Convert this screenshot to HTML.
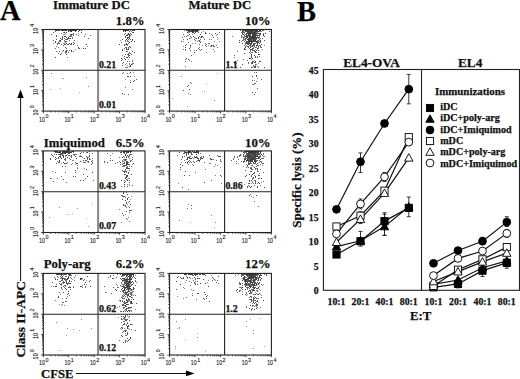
<!DOCTYPE html>
<html><head><meta charset="utf-8"><style>html,body{margin:0;padding:0;background:#fff;}svg{display:block;}</style></head>
<body><svg width="520" height="379" viewBox="0 0 520 379"><rect width="520" height="379" fill="#fff"/>
<path d="M63,30h1v1h-1zM71,30h1v1h-1zM61,30h1v1h-1zM68,31h1v1h-1zM75,31h1v1h-1zM75,30h1v1h-1zM64,30h1v1h-1zM68,38h1v1h-1zM66,39h1v1h-1zM65,41h1v1h-1zM67,39h1v1h-1zM64,36h1v1h-1zM60,40h1v1h-1zM66,48h1v1h-1zM65,51h1v1h-1zM81,32h1v1h-1zM78,47h1v1h-1zM66,54h1v1h-1zM130,30h1v1h-1zM127,30h1v1h-1zM132,30h1v1h-1zM127,38h1v1h-1zM129,57h1v1h-1zM124,56h1v1h-1zM128,49h1v1h-1zM122,50h1v1h-1zM128,37h1v1h-1zM127,37h1v1h-1zM126,47h1v1h-1zM130,47h1v1h-1zM129,66h1v1h-1zM130,35h1v1h-1zM129,42h1v1h-1zM129,31h1v1h-1zM128,47h1v1h-1zM128,33h1v1h-1zM128,34h1v1h-1zM133,32h1v1h-1zM129,36h1v1h-1zM125,36h1v1h-1z" fill="#4a4a4a"/>
<path d="M68,30h1v1h-1zM56,30h1v1h-1zM55,30h1v1h-1zM65,30h1v1h-1zM58,30h1v1h-1zM70,31h1v1h-1zM69,30h1v1h-1zM79,30h1v1h-1zM76,30h1v1h-1zM62,30h1v1h-1zM59,30h1v1h-1zM70,30h1v1h-1zM72,30h1v1h-1zM66,30h1v1h-1zM74,30h1v1h-1zM73,30h1v1h-1zM71,31h1v1h-1zM65,36h1v1h-1zM123,30h1v1h-1zM125,30h1v1h-1zM123,31h1v1h-1zM126,30h1v1h-1zM124,30h1v1h-1zM125,31h1v1h-1zM133,30h1v1h-1zM128,30h1v1h-1zM126,35h1v1h-1zM127,35h1v1h-1zM126,39h1v1h-1z" fill="#3a3a3a"/>
<path d="M55,42h1v1h-1zM70,38h1v1h-1zM60,38h1v1h-1zM66,37h1v1h-1zM76,34h1v1h-1zM71,34h1v1h-1zM81,30h1v1h-1zM69,43h1v1h-1zM59,43h1v1h-1zM64,32h1v1h-1zM71,43h1v1h-1zM63,50h1v1h-1zM71,50h1v1h-1zM59,41h1v1h-1zM66,43h1v1h-1zM55,41h1v1h-1zM68,44h1v1h-1zM83,48h1v1h-1zM86,44h1v1h-1zM78,31h1v1h-1zM85,48h1v1h-1zM66,50h1v1h-1zM60,54h1v1h-1zM55,57h1v1h-1zM126,44h1v1h-1zM132,63h1v1h-1zM121,60h1v1h-1zM126,57h1v1h-1zM119,44h1v1h-1zM129,55h1v1h-1zM126,49h1v1h-1zM129,38h1v1h-1zM131,64h1v1h-1zM130,65h1v1h-1zM127,57h1v1h-1zM132,39h1v1h-1zM126,51h1v1h-1zM121,58h1v1h-1zM124,45h1v1h-1zM129,46h1v1h-1zM134,41h1v1h-1zM129,34h1v1h-1zM131,41h1v1h-1zM130,33h1v1h-1zM122,93h1v1h-1zM130,82h1v1h-1zM130,72h1v1h-1z" fill="#444"/>
<path d="M53,32h1v1h-1zM62,37h1v1h-1zM68,37h1v1h-1zM73,42h1v1h-1zM62,36h1v1h-1zM62,38h1v1h-1zM66,41h1v1h-1zM69,36h1v1h-1zM65,33h1v1h-1zM67,38h1v1h-1zM51,34h1v1h-1zM53,40h1v1h-1zM66,32h1v1h-1zM73,44h1v1h-1zM74,43h1v1h-1zM65,47h1v1h-1zM64,44h1v1h-1zM69,50h1v1h-1zM74,40h1v1h-1zM66,51h1v1h-1zM56,39h1v1h-1zM59,51h1v1h-1zM58,42h1v1h-1zM71,51h1v1h-1zM79,48h1v1h-1zM88,38h1v1h-1zM84,36h1v1h-1zM68,52h1v1h-1zM61,53h1v1h-1zM125,54h1v1h-1zM121,42h1v1h-1zM122,49h1v1h-1zM132,51h1v1h-1zM126,48h1v1h-1zM134,30h1v1h-1zM134,52h1v1h-1zM129,37h1v1h-1zM122,65h1v1h-1zM126,43h1v1h-1zM125,37h1v1h-1zM128,39h1v1h-1zM123,62h1v1h-1zM130,66h1v1h-1zM122,39h1v1h-1zM125,59h1v1h-1zM128,54h1v1h-1zM124,34h1v1h-1zM130,39h1v1h-1zM136,79h1v1h-1zM127,76h1v1h-1zM130,76h1v1h-1zM128,94h1v1h-1zM134,80h1v1h-1zM128,76h1v1h-1z" fill="#555"/>
<path d="M61,33h1v1h-1zM71,36h1v1h-1zM59,40h1v1h-1zM56,35h1v1h-1zM64,34h1v1h-1zM63,34h1v1h-1zM72,34h1v1h-1zM62,39h1v1h-1zM64,43h1v1h-1zM70,34h1v1h-1zM57,30h1v1h-1zM73,35h1v1h-1zM60,41h1v1h-1zM73,34h1v1h-1zM64,40h1v1h-1zM65,42h1v1h-1zM67,44h1v1h-1zM58,47h1v1h-1zM70,36h1v1h-1zM56,51h1v1h-1zM78,35h1v1h-1zM66,52h1v1h-1zM122,55h1v1h-1zM122,59h1v1h-1zM127,51h1v1h-1zM128,56h1v1h-1zM125,47h1v1h-1zM129,63h1v1h-1zM127,41h1v1h-1zM127,34h1v1h-1zM125,40h1v1h-1zM132,40h1v1h-1zM122,63h1v1h-1zM132,60h1v1h-1zM127,40h1v1h-1zM126,67h1v1h-1zM125,44h1v1h-1zM127,67h1v1h-1zM127,45h1v1h-1zM125,33h1v1h-1zM131,31h1v1h-1zM132,32h1v1h-1zM127,73h1v1h-1zM125,87h1v1h-1zM130,80h1v1h-1zM122,73h1v1h-1zM123,72h1v1h-1z" fill="#777"/>
<path d="M73,33h1v1h-1zM61,39h1v1h-1zM69,38h1v1h-1zM63,45h1v1h-1zM69,40h1v1h-1zM56,36h1v1h-1zM70,35h1v1h-1zM65,44h1v1h-1zM64,38h1v1h-1zM55,48h1v1h-1zM70,44h1v1h-1zM61,44h1v1h-1zM57,44h1v1h-1zM71,44h1v1h-1zM72,38h1v1h-1zM56,46h1v1h-1zM73,51h1v1h-1zM77,45h1v1h-1zM90,35h1v1h-1zM85,34h1v1h-1zM65,52h1v1h-1zM58,53h1v1h-1zM128,41h1v1h-1zM124,58h1v1h-1zM127,54h1v1h-1zM127,61h1v1h-1zM128,43h1v1h-1zM124,48h1v1h-1zM128,48h1v1h-1zM129,61h1v1h-1zM132,61h1v1h-1zM125,41h1v1h-1zM129,52h1v1h-1zM127,49h1v1h-1zM125,64h1v1h-1zM127,44h1v1h-1zM128,55h1v1h-1zM131,54h1v1h-1zM131,34h1v1h-1zM129,35h1v1h-1zM133,81h1v1h-1z" fill="#666"/>
<path d="M71,35h1v1h-1zM72,37h1v1h-1zM63,32h1v1h-1zM65,39h1v1h-1zM55,31h1v1h-1zM53,43h1v1h-1zM64,41h1v1h-1zM67,50h1v1h-1zM58,43h1v1h-1zM57,43h1v1h-1zM63,43h1v1h-1zM75,49h1v1h-1zM78,48h1v1h-1zM87,46h1v1h-1zM78,33h1v1h-1zM62,51h1v1h-1zM67,57h1v1h-1zM65,53h1v1h-1zM129,53h1v1h-1zM130,53h1v1h-1zM128,53h1v1h-1zM126,63h1v1h-1zM120,40h1v1h-1zM125,67h1v1h-1zM129,64h1v1h-1zM124,44h1v1h-1zM133,63h1v1h-1zM132,64h1v1h-1zM127,65h1v1h-1zM128,59h1v1h-1zM129,73h1v1h-1zM132,89h1v1h-1zM133,72h1v1h-1zM125,79h1v1h-1zM134,76h1v1h-1zM124,94h1v1h-1zM51,73h1v1h-1zM86,77h1v1h-1zM88,86h1v1h-1z" fill="#888"/>
<path d="M79,92h1v1h-1zM63,78h1v1h-1zM60,88h1v1h-1zM62,78h1v1h-1zM50,89h1v1h-1z" fill="#aaa"/>
<path d="M192,30h1v1h-1zM187,30h1v1h-1zM196,30h1v1h-1zM188,30h1v1h-1zM193,30h1v1h-1zM194,30h1v1h-1zM195,30h1v1h-1zM198,30h1v1h-1zM197,31h1v1h-1zM192,31h1v1h-1zM197,30h1v1h-1zM196,31h1v1h-1zM193,31h1v1h-1zM189,30h1v1h-1zM188,31h1v1h-1zM195,31h1v1h-1zM191,30h1v1h-1zM191,31h1v1h-1zM192,32h1v1h-1zM194,33h1v1h-1zM251,41h1v1h-1zM250,41h1v1h-1zM255,30h1v1h-1zM250,30h1v1h-1zM245,30h1v1h-1zM247,36h1v1h-1zM249,41h1v1h-1zM251,40h1v1h-1zM253,35h1v1h-1zM252,30h1v1h-1zM248,35h1v1h-1zM251,37h1v1h-1zM254,37h1v1h-1zM248,32h1v1h-1zM251,30h1v1h-1zM245,31h1v1h-1zM252,33h1v1h-1zM248,38h1v1h-1zM249,33h1v1h-1zM252,35h1v1h-1zM256,30h1v1h-1zM254,31h1v1h-1zM249,38h1v1h-1zM247,41h1v1h-1zM260,30h1v1h-1zM247,43h1v1h-1zM247,37h1v1h-1zM246,35h1v1h-1zM255,40h1v1h-1zM256,41h1v1h-1zM253,39h1v1h-1zM256,31h1v1h-1zM253,38h1v1h-1zM248,30h1v1h-1zM257,30h1v1h-1zM253,30h1v1h-1zM252,34h1v1h-1zM247,31h1v1h-1zM248,44h1v1h-1zM253,41h1v1h-1zM248,40h1v1h-1zM249,30h1v1h-1zM247,33h1v1h-1zM249,36h1v1h-1zM253,37h1v1h-1zM250,34h1v1h-1zM256,33h1v1h-1zM243,34h1v1h-1zM252,31h1v1h-1zM246,30h1v1h-1zM255,36h1v1h-1zM254,36h1v1h-1zM250,44h1v1h-1zM252,36h1v1h-1zM255,34h1v1h-1zM247,39h1v1h-1zM250,36h1v1h-1zM249,40h1v1h-1zM249,34h1v1h-1zM254,38h1v1h-1zM254,40h1v1h-1zM258,33h1v1h-1zM251,42h1v1h-1zM254,33h1v1h-1zM253,40h1v1h-1zM257,43h1v1h-1zM255,37h1v1h-1zM250,33h1v1h-1zM252,45h1v1h-1zM248,31h1v1h-1zM259,30h1v1h-1zM253,34h1v1h-1zM256,38h1v1h-1zM255,31h1v1h-1zM251,33h1v1h-1zM244,35h1v1h-1zM252,41h1v1h-1zM256,42h1v1h-1zM253,33h1v1h-1zM250,45h1v1h-1zM249,43h1v1h-1zM249,35h1v1h-1zM256,37h1v1h-1zM248,41h1v1h-1zM250,31h1v1h-1zM255,41h1v1h-1zM252,38h1v1h-1zM250,32h1v1h-1zM255,32h1v1h-1zM251,36h1v1h-1zM245,38h1v1h-1zM252,37h1v1h-1zM254,35h1v1h-1zM250,39h1v1h-1zM260,40h1v1h-1zM250,47h1v1h-1z" fill="#3a3a3a"/>
<path d="M189,31h1v1h-1zM186,30h1v1h-1zM193,32h1v1h-1zM190,50h1v1h-1zM194,52h1v1h-1zM190,36h1v1h-1zM258,42h1v1h-1zM254,34h1v1h-1zM255,35h1v1h-1zM243,31h1v1h-1zM251,38h1v1h-1zM254,32h1v1h-1zM253,44h1v1h-1zM255,33h1v1h-1zM254,43h1v1h-1zM258,35h1v1h-1zM251,49h1v1h-1zM253,36h1v1h-1zM254,44h1v1h-1zM252,46h1v1h-1zM248,34h1v1h-1zM252,42h1v1h-1zM249,32h1v1h-1zM242,33h1v1h-1zM244,32h1v1h-1zM251,43h1v1h-1zM246,42h1v1h-1zM245,40h1v1h-1zM247,35h1v1h-1zM247,46h1v1h-1zM257,45h1v1h-1zM249,31h1v1h-1zM250,37h1v1h-1zM248,42h1v1h-1zM251,31h1v1h-1zM252,52h1v1h-1zM256,45h1v1h-1zM246,36h1v1h-1zM254,41h1v1h-1zM257,44h1v1h-1zM254,46h1v1h-1zM252,32h1v1h-1zM247,32h1v1h-1zM254,30h1v1h-1zM249,39h1v1h-1zM243,30h1v1h-1zM251,39h1v1h-1zM246,38h1v1h-1zM255,39h1v1h-1zM247,30h1v1h-1zM248,33h1v1h-1zM250,43h1v1h-1zM243,37h1v1h-1zM256,35h1v1h-1zM259,37h1v1h-1zM251,32h1v1h-1zM257,31h1v1h-1zM257,42h1v1h-1zM255,43h1v1h-1zM253,32h1v1h-1zM245,46h1v1h-1zM258,46h1v1h-1zM246,33h1v1h-1zM245,47h1v1h-1zM253,45h1v1h-1zM260,41h1v1h-1zM257,48h1v1h-1zM252,62h1v1h-1zM255,66h1v1h-1zM251,57h1v1h-1zM251,54h1v1h-1zM250,50h1v1h-1zM250,58h1v1h-1zM249,52h1v1h-1zM256,50h1v1h-1zM252,63h1v1h-1zM252,49h1v1h-1zM255,57h1v1h-1zM259,54h1v1h-1zM251,55h1v1h-1zM254,67h1v1h-1zM258,54h1v1h-1zM256,75h1v1h-1zM187,86h1v1h-1z" fill="#4a4a4a"/>
<path d="M190,30h1v1h-1zM201,32h1v1h-1zM199,47h1v1h-1zM183,39h1v1h-1zM194,37h1v1h-1zM213,46h1v1h-1zM214,51h1v1h-1zM212,45h1v1h-1zM192,34h1v1h-1zM189,38h1v1h-1zM209,39h1v1h-1zM188,32h1v1h-1zM200,42h1v1h-1zM200,39h1v1h-1zM217,37h1v1h-1zM190,46h1v1h-1zM185,50h1v1h-1zM190,38h1v1h-1zM188,35h1v1h-1zM202,45h1v1h-1zM187,35h1v1h-1zM191,61h1v1h-1zM185,66h1v1h-1zM189,60h1v1h-1zM257,33h1v1h-1zM242,30h1v1h-1zM243,32h1v1h-1zM242,34h1v1h-1zM241,36h1v1h-1zM252,39h1v1h-1zM244,36h1v1h-1zM241,35h1v1h-1zM248,47h1v1h-1zM241,41h1v1h-1zM257,36h1v1h-1zM250,46h1v1h-1zM260,47h1v1h-1zM260,46h1v1h-1zM262,38h1v1h-1zM260,38h1v1h-1zM250,35h1v1h-1zM257,32h1v1h-1zM263,33h1v1h-1zM249,48h1v1h-1zM248,36h1v1h-1zM258,38h1v1h-1zM257,40h1v1h-1zM244,45h1v1h-1zM249,45h1v1h-1zM244,37h1v1h-1zM253,43h1v1h-1zM258,48h1v1h-1zM258,47h1v1h-1zM250,53h1v1h-1zM254,50h1v1h-1zM248,62h1v1h-1zM252,67h1v1h-1zM255,56h1v1h-1zM258,67h1v1h-1zM251,46h1v1h-1zM251,62h1v1h-1zM254,45h1v1h-1zM246,45h1v1h-1zM237,51h1v1h-1zM248,63h1v1h-1zM236,63h1v1h-1zM243,59h1v1h-1zM234,57h1v1h-1zM257,78h1v1h-1zM255,83h1v1h-1zM190,94h1v1h-1zM188,93h1v1h-1zM191,83h1v1h-1z" fill="#777"/>
<path d="M184,30h1v1h-1zM194,31h1v1h-1zM189,32h1v1h-1zM210,46h1v1h-1zM192,43h1v1h-1zM206,52h1v1h-1zM190,47h1v1h-1zM208,45h1v1h-1zM219,41h1v1h-1zM214,41h1v1h-1zM216,35h1v1h-1zM217,39h1v1h-1zM183,46h1v1h-1zM211,39h1v1h-1zM208,43h1v1h-1zM206,33h1v1h-1zM186,44h1v1h-1zM211,34h1v1h-1zM198,40h1v1h-1zM200,37h1v1h-1zM183,41h1v1h-1zM195,38h1v1h-1zM200,50h1v1h-1zM203,31h1v1h-1zM200,41h1v1h-1zM241,32h1v1h-1zM263,30h1v1h-1zM245,42h1v1h-1zM259,36h1v1h-1zM244,33h1v1h-1zM251,52h1v1h-1zM247,44h1v1h-1zM264,45h1v1h-1zM252,40h1v1h-1zM256,32h1v1h-1zM244,39h1v1h-1zM256,39h1v1h-1zM261,31h1v1h-1zM260,31h1v1h-1zM256,47h1v1h-1zM253,31h1v1h-1zM243,40h1v1h-1zM245,44h1v1h-1zM256,46h1v1h-1zM242,36h1v1h-1zM262,49h1v1h-1zM250,51h1v1h-1zM255,65h1v1h-1zM253,66h1v1h-1zM257,56h1v1h-1zM251,59h1v1h-1zM258,52h1v1h-1zM254,60h1v1h-1zM255,49h1v1h-1zM256,64h1v1h-1zM257,49h1v1h-1zM258,63h1v1h-1zM237,60h1v1h-1zM254,80h1v1h-1zM252,84h1v1h-1zM181,76h1v1h-1zM214,100h1v1h-1z" fill="#888"/>
<path d="M190,31h1v1h-1zM199,36h1v1h-1zM214,46h1v1h-1zM198,48h1v1h-1zM217,47h1v1h-1zM194,50h1v1h-1zM216,45h1v1h-1zM183,34h1v1h-1zM209,33h1v1h-1zM183,49h1v1h-1zM213,45h1v1h-1zM191,37h1v1h-1zM205,32h1v1h-1zM197,41h1v1h-1zM185,49h1v1h-1zM219,32h1v1h-1zM212,35h1v1h-1zM196,50h1v1h-1zM195,43h1v1h-1zM184,36h1v1h-1zM199,44h1v1h-1zM199,40h1v1h-1zM206,44h1v1h-1zM194,39h1v1h-1zM188,42h1v1h-1zM205,43h1v1h-1zM203,37h1v1h-1zM205,45h1v1h-1zM185,61h1v1h-1zM191,55h1v1h-1zM185,59h1v1h-1zM259,45h1v1h-1zM247,42h1v1h-1zM244,41h1v1h-1zM241,37h1v1h-1zM251,44h1v1h-1zM258,41h1v1h-1zM255,38h1v1h-1zM245,36h1v1h-1zM258,40h1v1h-1zM260,34h1v1h-1zM243,38h1v1h-1zM245,49h1v1h-1zM260,42h1v1h-1zM261,47h1v1h-1zM256,34h1v1h-1zM259,41h1v1h-1zM245,39h1v1h-1zM260,45h1v1h-1zM242,40h1v1h-1zM259,56h1v1h-1zM256,52h1v1h-1zM254,51h1v1h-1zM255,61h1v1h-1zM255,64h1v1h-1zM253,65h1v1h-1zM251,63h1v1h-1zM253,47h1v1h-1zM232,36h1v1h-1zM269,31h1v1h-1zM255,92h1v1h-1zM256,81h1v1h-1zM257,88h1v1h-1zM254,72h1v1h-1zM256,72h1v1h-1zM188,85h1v1h-1z" fill="#666"/>
<path d="M195,32h1v1h-1zM182,37h1v1h-1zM209,43h1v1h-1zM193,36h1v1h-1zM187,32h1v1h-1zM206,46h1v1h-1zM204,39h1v1h-1zM213,49h1v1h-1zM215,33h1v1h-1zM217,34h1v1h-1zM198,32h1v1h-1zM200,34h1v1h-1zM211,46h1v1h-1zM195,40h1v1h-1zM196,38h1v1h-1zM199,41h1v1h-1zM199,49h1v1h-1zM198,38h1v1h-1zM181,41h1v1h-1zM185,45h1v1h-1zM259,34h1v1h-1zM259,31h1v1h-1zM246,34h1v1h-1zM246,31h1v1h-1zM259,35h1v1h-1zM261,44h1v1h-1zM259,33h1v1h-1zM243,39h1v1h-1zM246,41h1v1h-1zM258,37h1v1h-1zM257,41h1v1h-1zM257,37h1v1h-1zM248,43h1v1h-1zM245,34h1v1h-1zM259,39h1v1h-1zM244,30h1v1h-1zM259,43h1v1h-1zM242,32h1v1h-1zM245,43h1v1h-1zM247,60h1v1h-1zM255,67h1v1h-1zM252,61h1v1h-1zM257,66h1v1h-1zM250,49h1v1h-1zM255,62h1v1h-1zM255,47h1v1h-1zM253,61h1v1h-1zM254,66h1v1h-1zM252,48h1v1h-1zM253,48h1v1h-1zM251,56h1v1h-1zM260,61h1v1h-1zM258,50h1v1h-1zM252,50h1v1h-1zM253,50h1v1h-1zM264,40h1v1h-1zM234,55h1v1h-1zM264,36h1v1h-1zM240,30h1v1h-1zM228,64h1v1h-1zM242,64h1v1h-1zM261,79h1v1h-1zM254,83h1v1h-1zM256,76h1v1h-1zM254,94h1v1h-1zM252,80h1v1h-1zM253,84h1v1h-1zM183,90h1v1h-1zM190,82h1v1h-1zM189,89h1v1h-1z" fill="#555"/>
<path d="M186,36h1v1h-1zM201,37h1v1h-1zM205,33h1v1h-1zM189,34h1v1h-1zM185,47h1v1h-1zM201,49h1v1h-1zM189,48h1v1h-1zM213,37h1v1h-1zM211,45h1v1h-1zM187,39h1v1h-1zM201,36h1v1h-1zM202,36h1v1h-1zM190,45h1v1h-1zM198,37h1v1h-1zM188,59h1v1h-1zM186,58h1v1h-1zM249,37h1v1h-1zM250,38h1v1h-1zM246,43h1v1h-1zM254,39h1v1h-1zM258,31h1v1h-1zM248,39h1v1h-1zM250,40h1v1h-1zM242,31h1v1h-1zM265,33h1v1h-1zM263,35h1v1h-1zM246,37h1v1h-1zM260,33h1v1h-1zM249,42h1v1h-1zM239,40h1v1h-1zM263,34h1v1h-1zM257,35h1v1h-1zM248,46h1v1h-1zM242,43h1v1h-1zM244,49h1v1h-1zM244,48h1v1h-1zM262,30h1v1h-1zM255,51h1v1h-1zM255,52h1v1h-1zM244,53h1v1h-1zM252,58h1v1h-1zM249,58h1v1h-1zM254,62h1v1h-1zM251,67h1v1h-1zM254,55h1v1h-1zM257,57h1v1h-1zM240,67h1v1h-1zM234,62h1v1h-1zM259,61h1v1h-1zM239,42h1v1h-1zM264,67h1v1h-1zM232,67h1v1h-1zM252,76h1v1h-1zM252,92h1v1h-1z" fill="#444"/>
<path d="M217,73h1v1h-1zM206,83h1v1h-1z" fill="#aaa"/>
<path d="M204,91h1v1h-1zM187,106h1v1h-1zM172,98h1v1h-1z" fill="#999"/>
<path d="M70,152h1v1h-1zM57,151h1v1h-1zM59,152h1v1h-1zM68,151h1v1h-1zM62,152h1v1h-1zM64,151h1v1h-1zM65,151h1v1h-1zM54,151h1v1h-1zM56,151h1v1h-1zM67,151h1v1h-1zM67,152h1v1h-1zM60,152h1v1h-1zM55,151h1v1h-1zM66,152h1v1h-1zM58,152h1v1h-1zM72,151h1v1h-1zM64,152h1v1h-1zM57,152h1v1h-1zM61,153h1v1h-1zM59,160h1v1h-1zM60,156h1v1h-1zM65,152h1v1h-1zM63,152h1v1h-1zM63,156h1v1h-1zM128,152h1v1h-1zM125,151h1v1h-1zM124,152h1v1h-1zM124,151h1v1h-1zM130,152h1v1h-1zM123,151h1v1h-1zM123,152h1v1h-1zM130,151h1v1h-1zM126,162h1v1h-1zM126,161h1v1h-1zM125,159h1v1h-1zM126,177h1v1h-1z" fill="#3a3a3a"/>
<path d="M68,152h1v1h-1zM63,151h1v1h-1zM60,151h1v1h-1zM69,152h1v1h-1zM69,151h1v1h-1zM59,151h1v1h-1zM71,152h1v1h-1zM55,152h1v1h-1zM64,153h1v1h-1zM60,154h1v1h-1zM69,155h1v1h-1zM62,153h1v1h-1zM65,153h1v1h-1zM58,157h1v1h-1zM69,153h1v1h-1zM73,151h1v1h-1zM65,158h1v1h-1zM61,158h1v1h-1zM66,155h1v1h-1zM63,162h1v1h-1zM89,159h1v1h-1zM87,158h1v1h-1zM88,161h1v1h-1zM131,151h1v1h-1zM126,152h1v1h-1zM128,151h1v1h-1zM121,151h1v1h-1zM120,152h1v1h-1zM125,154h1v1h-1zM123,156h1v1h-1zM124,165h1v1h-1zM126,165h1v1h-1zM125,165h1v1h-1zM127,152h1v1h-1zM127,151h1v1h-1zM126,163h1v1h-1zM121,152h1v1h-1zM124,160h1v1h-1zM127,155h1v1h-1zM126,151h1v1h-1zM124,163h1v1h-1zM129,155h1v1h-1zM129,164h1v1h-1zM127,168h1v1h-1zM127,175h1v1h-1zM128,168h1v1h-1zM127,186h1v1h-1zM124,174h1v1h-1zM124,186h1v1h-1zM124,172h1v1h-1zM126,202h1v1h-1zM127,198h1v1h-1zM125,205h1v1h-1zM127,194h1v1h-1z" fill="#4a4a4a"/>
<path d="M64,159h1v1h-1zM66,151h1v1h-1zM63,155h1v1h-1zM55,159h1v1h-1zM62,154h1v1h-1zM59,156h1v1h-1zM58,158h1v1h-1zM68,153h1v1h-1zM73,154h1v1h-1zM56,154h1v1h-1zM52,155h1v1h-1zM65,160h1v1h-1zM56,163h1v1h-1zM51,154h1v1h-1zM86,156h1v1h-1zM55,157h1v1h-1zM75,162h1v1h-1zM81,156h1v1h-1zM89,151h1v1h-1zM60,157h1v1h-1zM59,161h1v1h-1zM83,160h1v1h-1zM59,162h1v1h-1zM76,158h1v1h-1zM76,163h1v1h-1zM62,166h1v1h-1zM75,172h1v1h-1zM53,181h1v1h-1zM50,178h1v1h-1zM63,179h1v1h-1zM83,174h1v1h-1zM128,156h1v1h-1zM131,166h1v1h-1zM123,165h1v1h-1zM128,162h1v1h-1zM130,154h1v1h-1zM133,163h1v1h-1zM126,153h1v1h-1zM130,161h1v1h-1zM125,160h1v1h-1zM126,157h1v1h-1zM124,162h1v1h-1zM129,151h1v1h-1zM124,153h1v1h-1zM131,154h1v1h-1zM126,156h1v1h-1zM132,159h1v1h-1zM132,185h1v1h-1zM124,171h1v1h-1zM126,175h1v1h-1zM126,171h1v1h-1zM129,168h1v1h-1zM123,171h1v1h-1zM112,160h1v1h-1zM123,192h1v1h-1zM124,196h1v1h-1zM129,201h1v1h-1zM129,207h1v1h-1zM126,211h1v1h-1zM130,210h1v1h-1zM126,218h1v1h-1zM129,212h1v1h-1z" fill="#555"/>
<path d="M54,154h1v1h-1zM71,157h1v1h-1zM74,154h1v1h-1zM68,155h1v1h-1zM67,154h1v1h-1zM65,155h1v1h-1zM69,158h1v1h-1zM83,152h1v1h-1zM65,163h1v1h-1zM71,151h1v1h-1zM58,162h1v1h-1zM70,159h1v1h-1zM79,156h1v1h-1zM53,156h1v1h-1zM80,156h1v1h-1zM84,162h1v1h-1zM83,162h1v1h-1zM86,152h1v1h-1zM82,157h1v1h-1zM87,161h1v1h-1zM86,160h1v1h-1zM92,160h1v1h-1zM92,162h1v1h-1zM85,162h1v1h-1zM66,182h1v1h-1zM55,172h1v1h-1zM61,176h1v1h-1zM93,180h1v1h-1zM77,168h1v1h-1zM65,172h1v1h-1zM75,176h1v1h-1zM124,159h1v1h-1zM126,159h1v1h-1zM127,161h1v1h-1zM127,166h1v1h-1zM123,163h1v1h-1zM119,157h1v1h-1zM131,160h1v1h-1zM132,157h1v1h-1zM124,180h1v1h-1zM129,182h1v1h-1zM121,186h1v1h-1zM125,181h1v1h-1zM129,180h1v1h-1zM128,172h1v1h-1zM129,170h1v1h-1zM125,171h1v1h-1zM131,174h1v1h-1zM107,153h1v1h-1zM104,162h1v1h-1zM115,163h1v1h-1zM126,192h1v1h-1zM128,197h1v1h-1zM123,205h1v1h-1zM125,206h1v1h-1zM129,221h1v1h-1zM131,210h1v1h-1z" fill="#666"/>
<path d="M62,155h1v1h-1zM71,155h1v1h-1zM63,157h1v1h-1zM59,154h1v1h-1zM89,158h1v1h-1zM91,161h1v1h-1zM89,156h1v1h-1zM50,158h1v1h-1zM87,152h1v1h-1zM85,160h1v1h-1zM67,157h1v1h-1zM64,163h1v1h-1zM80,153h1v1h-1zM89,155h1v1h-1zM50,159h1v1h-1zM62,151h1v1h-1zM91,164h1v1h-1zM77,163h1v1h-1zM66,163h1v1h-1zM80,161h1v1h-1zM87,157h1v1h-1zM84,158h1v1h-1zM86,169h1v1h-1zM92,172h1v1h-1zM80,180h1v1h-1zM73,176h1v1h-1zM83,180h1v1h-1zM87,176h1v1h-1zM75,170h1v1h-1zM127,163h1v1h-1zM120,164h1v1h-1zM128,164h1v1h-1zM120,162h1v1h-1zM122,157h1v1h-1zM127,164h1v1h-1zM127,162h1v1h-1zM125,155h1v1h-1zM126,164h1v1h-1zM124,182h1v1h-1zM127,180h1v1h-1zM126,176h1v1h-1zM124,184h1v1h-1zM128,173h1v1h-1zM122,170h1v1h-1zM126,167h1v1h-1zM121,180h1v1h-1zM125,178h1v1h-1zM107,162h1v1h-1zM104,161h1v1h-1zM110,160h1v1h-1zM130,204h1v1h-1zM122,199h1v1h-1zM125,197h1v1h-1zM123,193h1v1h-1zM127,199h1v1h-1zM123,204h1v1h-1zM126,203h1v1h-1zM121,195h1v1h-1zM123,196h1v1h-1zM125,200h1v1h-1zM129,210h1v1h-1zM123,215h1v1h-1zM122,213h1v1h-1z" fill="#444"/>
<path d="M65,159h1v1h-1zM65,156h1v1h-1zM63,153h1v1h-1zM56,152h1v1h-1zM73,152h1v1h-1zM58,154h1v1h-1zM60,153h1v1h-1zM56,158h1v1h-1zM74,155h1v1h-1zM75,154h1v1h-1zM92,153h1v1h-1zM76,154h1v1h-1zM72,163h1v1h-1zM72,160h1v1h-1zM61,163h1v1h-1zM75,156h1v1h-1zM81,152h1v1h-1zM88,162h1v1h-1zM88,157h1v1h-1zM87,159h1v1h-1zM57,178h1v1h-1zM51,178h1v1h-1zM77,165h1v1h-1zM65,166h1v1h-1zM129,158h1v1h-1zM119,161h1v1h-1zM129,166h1v1h-1zM128,157h1v1h-1zM122,166h1v1h-1zM122,161h1v1h-1zM123,166h1v1h-1zM121,154h1v1h-1zM130,160h1v1h-1zM125,174h1v1h-1zM128,178h1v1h-1zM127,167h1v1h-1zM125,169h1v1h-1zM127,176h1v1h-1zM126,179h1v1h-1zM126,168h1v1h-1zM125,177h1v1h-1zM117,162h1v1h-1zM110,155h1v1h-1zM122,196h1v1h-1zM128,202h1v1h-1zM126,207h1v1h-1zM127,219h1v1h-1zM119,209h1v1h-1zM121,222h1v1h-1zM128,217h1v1h-1z" fill="#777"/>
<path d="M60,155h1v1h-1zM70,156h1v1h-1zM61,154h1v1h-1zM75,164h1v1h-1zM90,159h1v1h-1zM71,164h1v1h-1zM71,156h1v1h-1zM73,160h1v1h-1zM80,155h1v1h-1zM92,163h1v1h-1zM89,153h1v1h-1zM57,161h1v1h-1zM67,162h1v1h-1zM92,158h1v1h-1zM52,171h1v1h-1zM77,167h1v1h-1zM85,178h1v1h-1zM84,168h1v1h-1zM122,163h1v1h-1zM122,164h1v1h-1zM122,160h1v1h-1zM124,157h1v1h-1zM124,166h1v1h-1zM123,161h1v1h-1zM123,159h1v1h-1zM129,156h1v1h-1zM129,154h1v1h-1zM132,164h1v1h-1zM129,178h1v1h-1zM129,185h1v1h-1zM127,184h1v1h-1zM127,179h1v1h-1zM125,170h1v1h-1zM129,184h1v1h-1zM126,172h1v1h-1zM110,158h1v1h-1zM112,153h1v1h-1zM128,206h1v1h-1zM131,196h1v1h-1zM122,195h1v1h-1zM130,199h1v1h-1zM127,204h1v1h-1zM124,205h1v1h-1zM125,214h1v1h-1zM59,207h1v1h-1z" fill="#888"/>
<path d="M72,213h1v1h-1zM92,203h1v1h-1zM86,218h1v1h-1z" fill="#aaa"/>
<path d="M67,214h1v1h-1zM88,226h1v1h-1zM77,208h1v1h-1zM49,217h1v1h-1z" fill="#999"/>
<path d="M186,152h1v1h-1zM187,152h1v1h-1zM194,151h1v1h-1zM198,152h1v1h-1zM194,152h1v1h-1zM190,158h1v1h-1zM186,153h1v1h-1zM188,157h1v1h-1zM191,153h1v1h-1zM187,158h1v1h-1zM196,156h1v1h-1zM209,155h1v1h-1zM185,171h1v1h-1zM255,153h1v1h-1zM248,153h1v1h-1zM249,161h1v1h-1zM244,161h1v1h-1zM240,154h1v1h-1zM248,154h1v1h-1zM249,153h1v1h-1zM250,161h1v1h-1zM257,160h1v1h-1zM260,161h1v1h-1zM253,155h1v1h-1zM251,161h1v1h-1zM258,158h1v1h-1zM249,163h1v1h-1zM254,158h1v1h-1zM256,152h1v1h-1zM260,159h1v1h-1zM248,162h1v1h-1zM251,155h1v1h-1zM251,156h1v1h-1zM250,162h1v1h-1zM257,155h1v1h-1zM257,169h1v1h-1zM252,154h1v1h-1zM260,156h1v1h-1zM261,154h1v1h-1zM239,155h1v1h-1zM248,160h1v1h-1zM244,159h1v1h-1zM255,161h1v1h-1zM254,155h1v1h-1zM251,157h1v1h-1zM261,158h1v1h-1zM243,152h1v1h-1zM257,151h1v1h-1zM257,154h1v1h-1zM253,154h1v1h-1zM245,156h1v1h-1zM257,153h1v1h-1zM249,158h1v1h-1zM255,162h1v1h-1zM244,156h1v1h-1zM254,157h1v1h-1zM260,151h1v1h-1zM248,157h1v1h-1zM250,158h1v1h-1zM255,154h1v1h-1zM250,156h1v1h-1zM244,153h1v1h-1zM245,157h1v1h-1zM251,160h1v1h-1zM249,174h1v1h-1zM250,187h1v1h-1zM253,173h1v1h-1zM251,169h1v1h-1zM257,163h1v1h-1zM252,174h1v1h-1zM249,181h1v1h-1zM253,177h1v1h-1zM254,172h1v1h-1z" fill="#4a4a4a"/>
<path d="M189,151h1v1h-1zM188,151h1v1h-1zM198,151h1v1h-1zM196,151h1v1h-1zM190,152h1v1h-1zM197,152h1v1h-1zM185,152h1v1h-1zM193,152h1v1h-1zM196,152h1v1h-1zM190,151h1v1h-1zM188,152h1v1h-1zM195,152h1v1h-1zM192,151h1v1h-1zM197,151h1v1h-1zM189,152h1v1h-1zM188,153h1v1h-1zM187,162h1v1h-1zM187,157h1v1h-1zM199,160h1v1h-1zM250,155h1v1h-1zM250,151h1v1h-1zM251,152h1v1h-1zM255,152h1v1h-1zM249,157h1v1h-1zM254,151h1v1h-1zM252,157h1v1h-1zM247,155h1v1h-1zM249,154h1v1h-1zM256,154h1v1h-1zM248,156h1v1h-1zM250,159h1v1h-1zM257,156h1v1h-1zM249,156h1v1h-1zM246,160h1v1h-1zM249,151h1v1h-1zM254,159h1v1h-1zM248,155h1v1h-1zM255,155h1v1h-1zM249,152h1v1h-1zM252,152h1v1h-1zM248,151h1v1h-1zM254,160h1v1h-1zM256,151h1v1h-1zM250,153h1v1h-1zM248,158h1v1h-1zM252,161h1v1h-1zM253,158h1v1h-1zM251,153h1v1h-1zM247,153h1v1h-1zM256,156h1v1h-1zM260,152h1v1h-1zM251,158h1v1h-1zM250,152h1v1h-1zM257,152h1v1h-1zM252,153h1v1h-1zM252,159h1v1h-1zM246,151h1v1h-1zM252,155h1v1h-1zM252,160h1v1h-1zM255,157h1v1h-1zM251,159h1v1h-1zM255,151h1v1h-1zM259,157h1v1h-1zM252,151h1v1h-1zM255,160h1v1h-1zM254,156h1v1h-1zM253,152h1v1h-1zM248,152h1v1h-1zM252,156h1v1h-1zM254,161h1v1h-1zM253,162h1v1h-1zM258,154h1v1h-1zM251,151h1v1h-1zM247,159h1v1h-1zM258,151h1v1h-1zM255,156h1v1h-1zM247,157h1v1h-1zM246,154h1v1h-1zM250,160h1v1h-1zM252,158h1v1h-1zM253,151h1v1h-1zM254,152h1v1h-1zM245,151h1v1h-1zM259,154h1v1h-1zM253,153h1v1h-1zM258,152h1v1h-1zM253,157h1v1h-1zM254,154h1v1h-1zM256,158h1v1h-1zM247,160h1v1h-1zM247,151h1v1h-1zM254,153h1v1h-1zM251,171h1v1h-1zM251,186h1v1h-1z" fill="#3a3a3a"/>
<path d="M197,158h1v1h-1zM187,159h1v1h-1zM186,154h1v1h-1zM203,156h1v1h-1zM203,157h1v1h-1zM189,158h1v1h-1zM196,161h1v1h-1zM189,175h1v1h-1zM188,161h1v1h-1zM198,159h1v1h-1zM186,155h1v1h-1zM182,157h1v1h-1zM180,167h1v1h-1zM184,156h1v1h-1zM201,158h1v1h-1zM193,165h1v1h-1zM182,165h1v1h-1zM211,159h1v1h-1zM211,180h1v1h-1zM180,169h1v1h-1zM204,182h1v1h-1zM245,155h1v1h-1zM249,155h1v1h-1zM253,159h1v1h-1zM262,155h1v1h-1zM250,157h1v1h-1zM249,159h1v1h-1zM263,158h1v1h-1zM246,156h1v1h-1zM262,163h1v1h-1zM251,163h1v1h-1zM245,158h1v1h-1zM261,162h1v1h-1zM244,158h1v1h-1zM258,178h1v1h-1zM256,166h1v1h-1zM251,176h1v1h-1zM254,163h1v1h-1zM255,168h1v1h-1zM255,183h1v1h-1zM251,168h1v1h-1zM255,182h1v1h-1zM260,164h1v1h-1zM257,186h1v1h-1zM258,182h1v1h-1zM263,163h1v1h-1zM257,187h1v1h-1zM247,187h1v1h-1zM250,168h1v1h-1zM231,160h1v1h-1zM234,156h1v1h-1zM237,157h1v1h-1zM191,205h1v1h-1z" fill="#555"/>
<path d="M194,157h1v1h-1zM193,161h1v1h-1zM177,155h1v1h-1zM198,158h1v1h-1zM182,156h1v1h-1zM181,159h1v1h-1zM204,162h1v1h-1zM190,156h1v1h-1zM191,162h1v1h-1zM184,152h1v1h-1zM183,153h1v1h-1zM180,164h1v1h-1zM200,153h1v1h-1zM197,160h1v1h-1zM194,156h1v1h-1zM220,159h1v1h-1zM216,160h1v1h-1zM210,159h1v1h-1zM220,156h1v1h-1zM209,163h1v1h-1zM188,189h1v1h-1zM247,166h1v1h-1zM259,160h1v1h-1zM257,168h1v1h-1zM248,164h1v1h-1zM241,161h1v1h-1zM243,154h1v1h-1zM246,161h1v1h-1zM255,163h1v1h-1zM247,158h1v1h-1zM263,153h1v1h-1zM249,164h1v1h-1zM246,152h1v1h-1zM243,156h1v1h-1zM259,153h1v1h-1zM243,155h1v1h-1zM257,171h1v1h-1zM263,172h1v1h-1zM246,167h1v1h-1zM256,161h1v1h-1zM248,167h1v1h-1zM246,175h1v1h-1zM255,169h1v1h-1zM255,180h1v1h-1zM259,178h1v1h-1zM254,185h1v1h-1zM258,165h1v1h-1zM248,183h1v1h-1zM259,175h1v1h-1zM250,171h1v1h-1zM260,185h1v1h-1zM251,175h1v1h-1zM252,178h1v1h-1zM247,186h1v1h-1zM238,159h1v1h-1zM236,163h1v1h-1zM236,161h1v1h-1zM258,206h1v1h-1z" fill="#666"/>
<path d="M193,158h1v1h-1zM188,154h1v1h-1zM197,157h1v1h-1zM184,151h1v1h-1zM189,162h1v1h-1zM192,154h1v1h-1zM192,164h1v1h-1zM190,161h1v1h-1zM201,156h1v1h-1zM189,160h1v1h-1zM184,160h1v1h-1zM181,162h1v1h-1zM186,159h1v1h-1zM188,164h1v1h-1zM213,159h1v1h-1zM214,166h1v1h-1zM215,164h1v1h-1zM212,159h1v1h-1zM217,155h1v1h-1zM217,165h1v1h-1zM221,161h1v1h-1zM220,160h1v1h-1zM215,175h1v1h-1zM205,169h1v1h-1zM221,176h1v1h-1zM195,172h1v1h-1zM221,183h1v1h-1zM257,158h1v1h-1zM262,158h1v1h-1zM253,163h1v1h-1zM261,151h1v1h-1zM263,156h1v1h-1zM250,154h1v1h-1zM241,151h1v1h-1zM256,153h1v1h-1zM244,152h1v1h-1zM246,153h1v1h-1zM256,160h1v1h-1zM250,163h1v1h-1zM247,154h1v1h-1zM258,153h1v1h-1zM251,167h1v1h-1zM259,151h1v1h-1zM248,161h1v1h-1zM255,158h1v1h-1zM246,158h1v1h-1zM248,159h1v1h-1zM258,156h1v1h-1zM260,155h1v1h-1zM251,154h1v1h-1zM263,181h1v1h-1zM255,181h1v1h-1zM244,184h1v1h-1zM253,183h1v1h-1zM254,175h1v1h-1zM248,185h1v1h-1zM252,169h1v1h-1zM254,173h1v1h-1zM257,170h1v1h-1zM253,178h1v1h-1zM252,182h1v1h-1zM250,167h1v1h-1zM254,180h1v1h-1zM259,173h1v1h-1zM261,182h1v1h-1zM233,159h1v1h-1zM233,158h1v1h-1zM254,201h1v1h-1zM187,208h1v1h-1zM191,208h1v1h-1z" fill="#777"/>
<path d="M192,157h1v1h-1zM199,161h1v1h-1zM187,163h1v1h-1zM191,152h1v1h-1zM189,156h1v1h-1zM200,158h1v1h-1zM201,157h1v1h-1zM220,161h1v1h-1zM210,163h1v1h-1zM220,167h1v1h-1zM178,183h1v1h-1zM256,164h1v1h-1zM262,165h1v1h-1zM246,155h1v1h-1zM264,156h1v1h-1zM243,162h1v1h-1zM259,158h1v1h-1zM253,166h1v1h-1zM251,165h1v1h-1zM263,154h1v1h-1zM256,155h1v1h-1zM245,152h1v1h-1zM237,156h1v1h-1zM253,156h1v1h-1zM259,162h1v1h-1zM244,160h1v1h-1zM261,161h1v1h-1zM251,183h1v1h-1zM260,169h1v1h-1zM258,171h1v1h-1zM252,179h1v1h-1zM257,183h1v1h-1zM243,166h1v1h-1zM246,164h1v1h-1zM256,168h1v1h-1zM252,181h1v1h-1zM239,156h1v1h-1zM238,163h1v1h-1zM234,157h1v1h-1zM253,197h1v1h-1zM250,194h1v1h-1zM251,196h1v1h-1zM188,204h1v1h-1zM215,222h1v1h-1zM179,220h1v1h-1zM211,215h1v1h-1z" fill="#888"/>
<path d="M191,154h1v1h-1zM185,162h1v1h-1zM195,157h1v1h-1zM198,160h1v1h-1zM179,152h1v1h-1zM202,158h1v1h-1zM189,157h1v1h-1zM198,153h1v1h-1zM191,158h1v1h-1zM200,157h1v1h-1zM196,157h1v1h-1zM196,154h1v1h-1zM184,153h1v1h-1zM194,162h1v1h-1zM200,159h1v1h-1zM210,158h1v1h-1zM219,156h1v1h-1zM218,156h1v1h-1zM182,187h1v1h-1zM220,175h1v1h-1zM184,175h1v1h-1zM249,160h1v1h-1zM247,156h1v1h-1zM259,156h1v1h-1zM260,153h1v1h-1zM254,167h1v1h-1zM243,161h1v1h-1zM247,165h1v1h-1zM248,163h1v1h-1zM245,159h1v1h-1zM244,151h1v1h-1zM258,157h1v1h-1zM255,159h1v1h-1zM249,180h1v1h-1zM249,183h1v1h-1zM259,183h1v1h-1zM252,165h1v1h-1zM257,165h1v1h-1zM264,187h1v1h-1zM251,180h1v1h-1zM255,176h1v1h-1zM255,177h1v1h-1zM249,186h1v1h-1zM245,170h1v1h-1zM261,178h1v1h-1zM245,176h1v1h-1zM258,175h1v1h-1zM240,155h1v1h-1zM256,195h1v1h-1zM249,195h1v1h-1z" fill="#444"/>
<path d="M214,227h1v1h-1z" fill="#999"/>
<path d="M190,222h1v1h-1z" fill="#aaa"/>
<path d="M60,274h1v1h-1zM68,274h1v1h-1zM69,274h1v1h-1zM61,274h1v1h-1zM58,274h1v1h-1zM64,279h1v1h-1zM128,274h1v1h-1zM125,274h1v1h-1zM131,274h1v1h-1zM130,274h1v1h-1zM129,274h1v1h-1zM122,274h1v1h-1zM127,274h1v1h-1zM133,274h1v1h-1zM132,274h1v1h-1zM126,279h1v1h-1zM128,288h1v1h-1zM130,277h1v1h-1zM131,282h1v1h-1zM130,275h1v1h-1zM126,281h1v1h-1zM127,279h1v1h-1zM126,276h1v1h-1zM124,278h1v1h-1zM128,276h1v1h-1zM122,275h1v1h-1zM126,275h1v1h-1zM127,288h1v1h-1zM128,279h1v1h-1zM129,288h1v1h-1zM121,279h1v1h-1zM126,287h1v1h-1zM124,282h1v1h-1zM127,277h1v1h-1zM128,289h1v1h-1zM128,282h1v1h-1zM126,284h1v1h-1zM124,289h1v1h-1zM127,285h1v1h-1zM131,278h1v1h-1zM125,285h1v1h-1zM125,283h1v1h-1zM125,279h1v1h-1zM128,286h1v1h-1zM129,277h1v1h-1zM126,283h1v1h-1zM123,280h1v1h-1zM128,281h1v1h-1zM128,285h1v1h-1zM127,275h1v1h-1zM127,287h1v1h-1zM126,304h1v1h-1zM131,301h1v1h-1zM129,291h1v1h-1zM126,302h1v1h-1zM126,299h1v1h-1zM126,300h1v1h-1zM126,292h1v1h-1zM128,295h1v1h-1zM127,295h1v1h-1zM125,305h1v1h-1zM126,308h1v1h-1z" fill="#3a3a3a"/>
<path d="M70,274h1v1h-1zM64,274h1v1h-1zM66,274h1v1h-1zM57,274h1v1h-1zM59,274h1v1h-1zM67,278h1v1h-1zM65,285h1v1h-1zM63,286h1v1h-1zM69,275h1v1h-1zM67,279h1v1h-1zM63,278h1v1h-1zM63,282h1v1h-1zM67,284h1v1h-1zM68,278h1v1h-1zM66,279h1v1h-1zM65,274h1v1h-1zM68,277h1v1h-1zM62,279h1v1h-1zM61,280h1v1h-1zM56,274h1v1h-1zM64,282h1v1h-1zM69,280h1v1h-1zM57,279h1v1h-1zM55,286h1v1h-1zM68,276h1v1h-1zM61,277h1v1h-1zM68,291h1v1h-1zM84,284h1v1h-1zM124,274h1v1h-1zM126,273h1v1h-1zM123,274h1v1h-1zM131,275h1v1h-1zM123,275h1v1h-1zM129,284h1v1h-1zM133,276h1v1h-1zM127,281h1v1h-1zM123,284h1v1h-1zM124,284h1v1h-1zM129,280h1v1h-1zM129,282h1v1h-1zM130,279h1v1h-1zM133,288h1v1h-1zM131,279h1v1h-1zM129,281h1v1h-1zM120,285h1v1h-1zM122,286h1v1h-1zM129,286h1v1h-1zM127,286h1v1h-1zM130,276h1v1h-1zM126,280h1v1h-1zM126,285h1v1h-1zM123,286h1v1h-1zM121,276h1v1h-1zM133,287h1v1h-1zM130,282h1v1h-1zM135,285h1v1h-1zM129,278h1v1h-1zM128,284h1v1h-1zM123,278h1v1h-1zM125,281h1v1h-1zM128,283h1v1h-1zM129,275h1v1h-1zM126,289h1v1h-1zM135,278h1v1h-1zM123,287h1v1h-1zM132,277h1v1h-1zM126,282h1v1h-1zM130,281h1v1h-1zM126,274h1v1h-1zM130,283h1v1h-1zM124,295h1v1h-1zM124,298h1v1h-1zM122,301h1v1h-1zM123,304h1v1h-1zM133,299h1v1h-1zM121,311h1v1h-1zM125,306h1v1h-1zM125,311h1v1h-1zM124,290h1v1h-1zM127,300h1v1h-1zM128,299h1v1h-1zM129,311h1v1h-1zM123,290h1v1h-1zM125,309h1v1h-1zM128,307h1v1h-1zM128,291h1v1h-1zM123,292h1v1h-1zM124,303h1v1h-1zM130,301h1v1h-1zM125,292h1v1h-1zM127,304h1v1h-1zM125,303h1v1h-1zM128,290h1v1h-1zM127,326h1v1h-1zM127,327h1v1h-1zM127,323h1v1h-1zM125,320h1v1h-1zM127,328h1v1h-1zM122,328h1v1h-1zM127,338h1v1h-1z" fill="#4a4a4a"/>
<path d="M63,274h1v1h-1zM55,278h1v1h-1zM63,275h1v1h-1zM58,277h1v1h-1zM65,278h1v1h-1zM51,286h1v1h-1zM72,279h1v1h-1zM61,278h1v1h-1zM61,285h1v1h-1zM65,286h1v1h-1zM69,286h1v1h-1zM55,300h1v1h-1zM59,304h1v1h-1zM62,298h1v1h-1zM61,305h1v1h-1zM62,289h1v1h-1zM60,294h1v1h-1zM81,279h1v1h-1zM86,280h1v1h-1zM86,284h1v1h-1zM82,285h1v1h-1zM122,276h1v1h-1zM129,285h1v1h-1zM123,285h1v1h-1zM121,289h1v1h-1zM124,283h1v1h-1zM132,289h1v1h-1zM135,275h1v1h-1zM127,278h1v1h-1zM130,289h1v1h-1zM131,285h1v1h-1zM125,282h1v1h-1zM133,283h1v1h-1zM123,279h1v1h-1zM136,282h1v1h-1zM129,289h1v1h-1zM127,289h1v1h-1zM130,280h1v1h-1zM121,282h1v1h-1zM130,292h1v1h-1zM130,294h1v1h-1zM128,293h1v1h-1zM132,291h1v1h-1zM132,294h1v1h-1zM123,305h1v1h-1zM117,307h1v1h-1zM131,311h1v1h-1zM127,296h1v1h-1zM122,297h1v1h-1zM125,291h1v1h-1zM129,307h1v1h-1zM124,293h1v1h-1zM120,291h1v1h-1zM122,300h1v1h-1zM130,310h1v1h-1zM131,299h1v1h-1zM125,302h1v1h-1zM132,292h1v1h-1zM135,309h1v1h-1zM128,300h1v1h-1zM130,290h1v1h-1zM122,296h1v1h-1zM106,292h1v1h-1zM105,292h1v1h-1zM117,285h1v1h-1zM128,317h1v1h-1zM126,319h1v1h-1zM128,328h1v1h-1zM127,322h1v1h-1zM122,325h1v1h-1zM132,324h1v1h-1zM125,317h1v1h-1zM122,319h1v1h-1zM122,327h1v1h-1zM126,325h1v1h-1zM124,328h1v1h-1zM127,315h1v1h-1zM121,329h1v1h-1zM120,328h1v1h-1zM118,317h1v1h-1zM125,341h1v1h-1zM125,333h1v1h-1zM56,322h1v1h-1zM81,319h1v1h-1zM91,328h1v1h-1zM67,328h1v1h-1z" fill="#888"/>
<path d="M63,292h1v1h-1zM62,276h1v1h-1zM60,284h1v1h-1zM70,283h1v1h-1zM63,273h1v1h-1zM80,286h1v1h-1zM55,279h1v1h-1zM70,287h1v1h-1zM60,281h1v1h-1zM66,281h1v1h-1zM57,276h1v1h-1zM69,281h1v1h-1zM61,287h1v1h-1zM66,298h1v1h-1zM68,293h1v1h-1zM58,297h1v1h-1zM81,278h1v1h-1zM80,278h1v1h-1zM85,282h1v1h-1zM80,279h1v1h-1zM120,274h1v1h-1zM124,275h1v1h-1zM122,288h1v1h-1zM129,279h1v1h-1zM130,288h1v1h-1zM131,289h1v1h-1zM129,287h1v1h-1zM132,284h1v1h-1zM132,281h1v1h-1zM127,283h1v1h-1zM115,289h1v1h-1zM133,289h1v1h-1zM125,287h1v1h-1zM126,286h1v1h-1zM124,287h1v1h-1zM122,278h1v1h-1zM124,279h1v1h-1zM128,310h1v1h-1zM127,302h1v1h-1zM124,301h1v1h-1zM124,307h1v1h-1zM127,292h1v1h-1zM126,294h1v1h-1zM130,302h1v1h-1zM129,296h1v1h-1zM122,305h1v1h-1zM131,307h1v1h-1zM132,303h1v1h-1zM130,296h1v1h-1zM128,294h1v1h-1zM136,303h1v1h-1zM127,311h1v1h-1zM124,305h1v1h-1zM131,302h1v1h-1zM126,310h1v1h-1zM116,277h1v1h-1zM112,278h1v1h-1zM116,290h1v1h-1zM110,276h1v1h-1zM128,326h1v1h-1zM125,319h1v1h-1zM130,324h1v1h-1zM124,317h1v1h-1zM124,323h1v1h-1zM123,318h1v1h-1zM125,316h1v1h-1zM129,316h1v1h-1zM123,324h1v1h-1zM126,320h1v1h-1zM130,337h1v1h-1zM128,340h1v1h-1zM125,342h1v1h-1zM127,334h1v1h-1zM122,336h1v1h-1zM123,331h1v1h-1zM125,331h1v1h-1zM125,330h1v1h-1z" fill="#444"/>
<path d="M61,283h1v1h-1zM63,283h1v1h-1zM67,283h1v1h-1zM71,275h1v1h-1zM54,277h1v1h-1zM68,287h1v1h-1zM52,282h1v1h-1zM75,275h1v1h-1zM73,287h1v1h-1zM62,274h1v1h-1zM71,281h1v1h-1zM64,287h1v1h-1zM60,278h1v1h-1zM69,287h1v1h-1zM65,280h1v1h-1zM70,277h1v1h-1zM59,283h1v1h-1zM70,275h1v1h-1zM58,296h1v1h-1zM66,301h1v1h-1zM63,302h1v1h-1zM69,295h1v1h-1zM61,288h1v1h-1zM85,286h1v1h-1zM84,279h1v1h-1zM121,283h1v1h-1zM125,288h1v1h-1zM122,281h1v1h-1zM129,276h1v1h-1zM128,287h1v1h-1zM131,294h1v1h-1zM131,290h1v1h-1zM122,304h1v1h-1zM127,297h1v1h-1zM130,293h1v1h-1zM125,293h1v1h-1zM133,291h1v1h-1zM128,298h1v1h-1zM123,308h1v1h-1zM131,293h1v1h-1zM133,295h1v1h-1zM131,303h1v1h-1zM123,291h1v1h-1zM121,297h1v1h-1zM113,275h1v1h-1zM110,275h1v1h-1zM113,278h1v1h-1zM116,284h1v1h-1zM123,321h1v1h-1zM125,315h1v1h-1zM129,320h1v1h-1zM124,321h1v1h-1zM131,324h1v1h-1zM125,340h1v1h-1zM122,332h1v1h-1zM127,333h1v1h-1zM126,330h1v1h-1zM127,341h1v1h-1z" fill="#666"/>
<path d="M66,276h1v1h-1zM74,280h1v1h-1zM59,281h1v1h-1zM62,282h1v1h-1zM73,286h1v1h-1zM62,277h1v1h-1zM64,278h1v1h-1zM63,281h1v1h-1zM66,280h1v1h-1zM53,286h1v1h-1zM68,273h1v1h-1zM64,285h1v1h-1zM68,282h1v1h-1zM65,279h1v1h-1zM65,301h1v1h-1zM67,296h1v1h-1zM62,304h1v1h-1zM64,305h1v1h-1zM90,280h1v1h-1zM85,287h1v1h-1zM124,286h1v1h-1zM130,285h1v1h-1zM133,282h1v1h-1zM124,281h1v1h-1zM118,287h1v1h-1zM129,283h1v1h-1zM127,282h1v1h-1zM130,286h1v1h-1zM122,284h1v1h-1zM127,284h1v1h-1zM134,288h1v1h-1zM121,286h1v1h-1zM135,280h1v1h-1zM126,278h1v1h-1zM131,284h1v1h-1zM125,277h1v1h-1zM134,277h1v1h-1zM128,308h1v1h-1zM122,295h1v1h-1zM130,303h1v1h-1zM127,294h1v1h-1zM131,310h1v1h-1zM124,292h1v1h-1zM123,298h1v1h-1zM128,304h1v1h-1zM129,308h1v1h-1zM120,311h1v1h-1zM129,299h1v1h-1zM120,301h1v1h-1zM125,290h1v1h-1zM129,310h1v1h-1zM135,295h1v1h-1zM127,291h1v1h-1zM132,297h1v1h-1zM126,306h1v1h-1zM127,308h1v1h-1zM122,291h1v1h-1zM129,293h1v1h-1zM124,310h1v1h-1zM123,302h1v1h-1zM119,300h1v1h-1zM128,301h1v1h-1zM119,306h1v1h-1zM126,309h1v1h-1zM121,318h1v1h-1zM121,322h1v1h-1zM124,318h1v1h-1zM131,329h1v1h-1zM129,329h1v1h-1zM124,319h1v1h-1zM126,324h1v1h-1zM126,340h1v1h-1zM125,335h1v1h-1z" fill="#777"/>
<path d="M66,282h1v1h-1zM60,276h1v1h-1zM69,283h1v1h-1zM65,288h1v1h-1zM61,284h1v1h-1zM74,277h1v1h-1zM62,278h1v1h-1zM61,275h1v1h-1zM65,276h1v1h-1zM56,284h1v1h-1zM68,283h1v1h-1zM66,283h1v1h-1zM62,280h1v1h-1zM71,278h1v1h-1zM56,286h1v1h-1zM66,289h1v1h-1zM70,289h1v1h-1zM67,294h1v1h-1zM59,292h1v1h-1zM62,302h1v1h-1zM83,280h1v1h-1zM90,286h1v1h-1zM82,287h1v1h-1zM81,286h1v1h-1zM82,278h1v1h-1zM87,276h1v1h-1zM89,281h1v1h-1zM117,274h1v1h-1zM124,288h1v1h-1zM120,278h1v1h-1zM133,275h1v1h-1zM131,276h1v1h-1zM130,278h1v1h-1zM122,280h1v1h-1zM124,280h1v1h-1zM127,280h1v1h-1zM135,281h1v1h-1zM125,280h1v1h-1zM127,301h1v1h-1zM122,298h1v1h-1zM129,300h1v1h-1zM123,311h1v1h-1zM123,296h1v1h-1zM131,297h1v1h-1zM120,300h1v1h-1zM126,293h1v1h-1zM123,307h1v1h-1zM125,294h1v1h-1zM122,290h1v1h-1zM131,292h1v1h-1zM131,295h1v1h-1zM124,302h1v1h-1zM123,294h1v1h-1zM125,296h1v1h-1zM130,307h1v1h-1zM104,286h1v1h-1zM117,287h1v1h-1zM108,277h1v1h-1zM113,287h1v1h-1zM111,293h1v1h-1zM127,319h1v1h-1zM121,319h1v1h-1zM121,316h1v1h-1zM124,324h1v1h-1zM121,327h1v1h-1zM123,316h1v1h-1zM128,325h1v1h-1zM129,339h1v1h-1zM127,332h1v1h-1zM119,340h1v1h-1zM124,330h1v1h-1zM135,330h1v1h-1zM130,338h1v1h-1zM123,342h1v1h-1zM121,335h1v1h-1zM126,335h1v1h-1z" fill="#555"/>
<path d="M66,335h1v1h-1zM60,350h1v1h-1zM73,329h1v1h-1z" fill="#999"/>
<path d="M79,330h1v1h-1z" fill="#aaa"/>
<path d="M191,274h1v1h-1zM188,274h1v1h-1zM196,274h1v1h-1zM185,274h1v1h-1zM195,274h1v1h-1zM189,274h1v1h-1zM190,274h1v1h-1zM184,274h1v1h-1zM194,274h1v1h-1zM202,274h1v1h-1zM248,274h1v1h-1zM250,286h1v1h-1zM253,280h1v1h-1zM247,275h1v1h-1zM255,277h1v1h-1zM247,281h1v1h-1zM255,282h1v1h-1zM251,277h1v1h-1zM253,276h1v1h-1zM251,275h1v1h-1zM247,279h1v1h-1zM245,282h1v1h-1zM248,278h1v1h-1zM246,283h1v1h-1zM252,274h1v1h-1zM250,282h1v1h-1zM252,282h1v1h-1zM252,277h1v1h-1zM246,279h1v1h-1zM254,284h1v1h-1zM244,279h1v1h-1zM243,274h1v1h-1zM255,274h1v1h-1zM253,275h1v1h-1zM249,274h1v1h-1zM250,276h1v1h-1zM253,286h1v1h-1zM249,276h1v1h-1zM248,284h1v1h-1zM256,279h1v1h-1zM245,279h1v1h-1zM249,286h1v1h-1zM251,276h1v1h-1zM244,278h1v1h-1zM250,274h1v1h-1zM244,276h1v1h-1zM254,281h1v1h-1zM247,278h1v1h-1zM254,273h1v1h-1zM252,275h1v1h-1zM250,280h1v1h-1zM254,280h1v1h-1zM247,274h1v1h-1zM246,284h1v1h-1zM241,276h1v1h-1zM260,274h1v1h-1zM255,275h1v1h-1zM246,274h1v1h-1zM251,279h1v1h-1zM251,284h1v1h-1zM250,275h1v1h-1zM253,278h1v1h-1zM255,279h1v1h-1zM245,286h1v1h-1zM244,277h1v1h-1zM250,290h1v1h-1zM253,274h1v1h-1zM249,278h1v1h-1zM249,281h1v1h-1zM249,285h1v1h-1zM250,278h1v1h-1zM250,277h1v1h-1zM251,274h1v1h-1zM249,293h1v1h-1zM258,274h1v1h-1zM256,278h1v1h-1zM249,277h1v1h-1zM248,277h1v1h-1zM251,309h1v1h-1z" fill="#3a3a3a"/>
<path d="M192,274h1v1h-1zM200,274h1v1h-1zM196,273h1v1h-1zM204,274h1v1h-1zM186,274h1v1h-1zM197,273h1v1h-1zM199,274h1v1h-1zM203,274h1v1h-1zM205,275h1v1h-1zM187,277h1v1h-1zM200,283h1v1h-1zM181,278h1v1h-1zM203,279h1v1h-1zM194,282h1v1h-1zM245,277h1v1h-1zM258,278h1v1h-1zM252,283h1v1h-1zM244,280h1v1h-1zM254,285h1v1h-1zM252,284h1v1h-1zM251,282h1v1h-1zM254,279h1v1h-1zM249,280h1v1h-1zM246,280h1v1h-1zM245,283h1v1h-1zM252,278h1v1h-1zM259,277h1v1h-1zM250,285h1v1h-1zM258,283h1v1h-1zM248,280h1v1h-1zM245,281h1v1h-1zM254,275h1v1h-1zM254,274h1v1h-1zM257,282h1v1h-1zM252,285h1v1h-1zM261,275h1v1h-1zM257,274h1v1h-1zM251,278h1v1h-1zM248,275h1v1h-1zM245,273h1v1h-1zM253,282h1v1h-1zM253,284h1v1h-1zM259,286h1v1h-1zM253,277h1v1h-1zM249,275h1v1h-1zM251,281h1v1h-1zM250,273h1v1h-1zM255,278h1v1h-1zM258,280h1v1h-1zM249,283h1v1h-1zM250,281h1v1h-1zM247,287h1v1h-1zM242,274h1v1h-1zM255,276h1v1h-1zM248,279h1v1h-1zM261,278h1v1h-1zM253,281h1v1h-1zM253,285h1v1h-1zM243,278h1v1h-1zM251,273h1v1h-1zM247,276h1v1h-1zM250,283h1v1h-1zM253,290h1v1h-1zM253,287h1v1h-1zM254,277h1v1h-1zM255,287h1v1h-1zM245,280h1v1h-1zM254,276h1v1h-1zM246,281h1v1h-1zM256,274h1v1h-1zM256,273h1v1h-1zM254,287h1v1h-1zM259,275h1v1h-1zM256,277h1v1h-1zM255,294h1v1h-1zM242,280h1v1h-1zM257,288h1v1h-1zM253,294h1v1h-1zM254,298h1v1h-1zM254,309h1v1h-1zM250,299h1v1h-1zM249,308h1v1h-1zM255,297h1v1h-1zM250,305h1v1h-1zM256,298h1v1h-1zM251,299h1v1h-1zM252,308h1v1h-1zM255,302h1v1h-1zM253,302h1v1h-1zM251,301h1v1h-1zM246,307h1v1h-1zM253,297h1v1h-1zM253,299h1v1h-1zM256,305h1v1h-1zM240,290h1v1h-1z" fill="#4a4a4a"/>
<path d="M195,279h1v1h-1zM183,277h1v1h-1zM189,281h1v1h-1zM199,278h1v1h-1zM204,299h1v1h-1zM180,277h1v1h-1zM186,297h1v1h-1zM192,295h1v1h-1zM193,280h1v1h-1zM212,280h1v1h-1zM247,282h1v1h-1zM251,289h1v1h-1zM257,275h1v1h-1zM243,277h1v1h-1zM241,275h1v1h-1zM242,278h1v1h-1zM264,274h1v1h-1zM247,288h1v1h-1zM252,276h1v1h-1zM258,277h1v1h-1zM258,284h1v1h-1zM266,274h1v1h-1zM238,274h1v1h-1zM247,280h1v1h-1zM245,274h1v1h-1zM241,273h1v1h-1zM255,283h1v1h-1zM248,283h1v1h-1zM246,275h1v1h-1zM256,275h1v1h-1zM259,283h1v1h-1zM242,275h1v1h-1zM251,293h1v1h-1zM244,281h1v1h-1zM241,288h1v1h-1zM251,300h1v1h-1zM256,293h1v1h-1zM251,297h1v1h-1zM254,303h1v1h-1zM258,298h1v1h-1zM253,298h1v1h-1zM257,294h1v1h-1zM249,297h1v1h-1zM251,296h1v1h-1zM237,292h1v1h-1zM240,283h1v1h-1z" fill="#666"/>
<path d="M194,283h1v1h-1zM197,281h1v1h-1zM191,282h1v1h-1zM186,280h1v1h-1zM198,278h1v1h-1zM207,282h1v1h-1zM190,285h1v1h-1zM187,278h1v1h-1zM192,275h1v1h-1zM196,299h1v1h-1zM182,278h1v1h-1zM207,295h1v1h-1zM183,287h1v1h-1zM183,298h1v1h-1zM197,276h1v1h-1zM218,283h1v1h-1zM213,278h1v1h-1zM252,273h1v1h-1zM250,279h1v1h-1zM249,284h1v1h-1zM258,288h1v1h-1zM241,274h1v1h-1zM259,282h1v1h-1zM255,280h1v1h-1zM254,290h1v1h-1zM246,293h1v1h-1zM257,276h1v1h-1zM244,273h1v1h-1zM252,280h1v1h-1zM239,284h1v1h-1zM242,285h1v1h-1zM261,284h1v1h-1zM243,275h1v1h-1zM257,278h1v1h-1zM251,286h1v1h-1zM248,285h1v1h-1zM248,273h1v1h-1zM252,287h1v1h-1zM254,282h1v1h-1zM260,277h1v1h-1zM247,283h1v1h-1zM252,289h1v1h-1zM242,294h1v1h-1zM254,294h1v1h-1zM256,290h1v1h-1zM246,292h1v1h-1zM260,290h1v1h-1zM251,310h1v1h-1zM252,305h1v1h-1zM254,296h1v1h-1zM250,293h1v1h-1zM261,297h1v1h-1zM249,299h1v1h-1zM256,306h1v1h-1zM255,305h1v1h-1zM254,306h1v1h-1zM240,287h1v1h-1zM242,291h1v1h-1z" fill="#777"/>
<path d="M195,281h1v1h-1zM197,284h1v1h-1zM183,278h1v1h-1zM195,275h1v1h-1zM180,284h1v1h-1zM209,301h1v1h-1zM186,276h1v1h-1zM178,276h1v1h-1zM177,277h1v1h-1zM198,293h1v1h-1zM193,290h1v1h-1zM176,289h1v1h-1zM205,294h1v1h-1zM216,282h1v1h-1zM218,276h1v1h-1zM266,275h1v1h-1zM256,284h1v1h-1zM242,287h1v1h-1zM260,280h1v1h-1zM253,273h1v1h-1zM253,279h1v1h-1zM260,279h1v1h-1zM243,279h1v1h-1zM258,279h1v1h-1zM244,274h1v1h-1zM251,292h1v1h-1zM235,275h1v1h-1zM244,284h1v1h-1zM242,283h1v1h-1zM256,288h1v1h-1zM257,291h1v1h-1zM248,291h1v1h-1zM256,285h1v1h-1zM248,287h1v1h-1zM249,288h1v1h-1zM248,281h1v1h-1zM257,290h1v1h-1zM250,292h1v1h-1zM259,276h1v1h-1zM253,305h1v1h-1zM257,300h1v1h-1zM245,294h1v1h-1zM256,304h1v1h-1zM258,294h1v1h-1zM257,304h1v1h-1zM257,301h1v1h-1zM239,291h1v1h-1zM236,290h1v1h-1zM239,282h1v1h-1zM242,289h1v1h-1z" fill="#555"/>
<path d="M194,277h1v1h-1zM208,286h1v1h-1zM195,284h1v1h-1zM212,277h1v1h-1zM189,277h1v1h-1zM205,283h1v1h-1zM193,275h1v1h-1zM197,274h1v1h-1zM206,298h1v1h-1zM176,281h1v1h-1zM203,298h1v1h-1zM204,292h1v1h-1zM197,278h1v1h-1zM197,293h1v1h-1zM206,296h1v1h-1zM217,280h1v1h-1zM214,279h1v1h-1zM256,283h1v1h-1zM258,287h1v1h-1zM260,275h1v1h-1zM250,287h1v1h-1zM246,285h1v1h-1zM254,288h1v1h-1zM250,291h1v1h-1zM255,285h1v1h-1zM250,296h1v1h-1zM254,283h1v1h-1zM252,290h1v1h-1zM245,289h1v1h-1zM259,293h1v1h-1zM253,289h1v1h-1zM245,284h1v1h-1zM249,290h1v1h-1zM263,300h1v1h-1zM256,308h1v1h-1zM253,301h1v1h-1zM257,307h1v1h-1zM255,300h1v1h-1zM237,289h1v1h-1zM240,284h1v1h-1z" fill="#444"/>
<path d="M195,278h1v1h-1zM211,275h1v1h-1zM192,278h1v1h-1zM190,278h1v1h-1zM195,283h1v1h-1zM191,289h1v1h-1zM185,282h1v1h-1zM184,288h1v1h-1zM192,293h1v1h-1zM177,296h1v1h-1zM208,280h1v1h-1zM215,280h1v1h-1zM257,277h1v1h-1zM257,284h1v1h-1zM247,284h1v1h-1zM251,285h1v1h-1zM257,280h1v1h-1zM263,284h1v1h-1zM259,273h1v1h-1zM245,285h1v1h-1zM251,280h1v1h-1zM246,287h1v1h-1zM247,289h1v1h-1zM239,290h1v1h-1zM246,277h1v1h-1zM248,276h1v1h-1zM241,287h1v1h-1zM247,285h1v1h-1zM250,284h1v1h-1zM260,294h1v1h-1zM259,289h1v1h-1zM252,291h1v1h-1zM262,285h1v1h-1zM247,294h1v1h-1zM253,288h1v1h-1zM255,292h1v1h-1zM260,307h1v1h-1zM250,302h1v1h-1zM252,306h1v1h-1zM252,303h1v1h-1zM246,295h1v1h-1zM257,305h1v1h-1zM252,300h1v1h-1zM254,300h1v1h-1zM261,295h1v1h-1zM256,303h1v1h-1zM257,298h1v1h-1zM246,306h1v1h-1zM256,301h1v1h-1zM253,300h1v1h-1zM258,302h1v1h-1zM239,283h1v1h-1zM239,287h1v1h-1zM253,333h1v1h-1zM246,326h1v1h-1zM253,330h1v1h-1zM253,348h1v1h-1zM175,346h1v1h-1zM176,321h1v1h-1zM197,337h1v1h-1zM179,327h1v1h-1z" fill="#888"/>
<path d="M250,319h1v1h-1zM264,346h1v1h-1zM246,321h1v1h-1zM197,333h1v1h-1zM175,348h1v1h-1zM177,328h1v1h-1zM185,339h1v1h-1zM205,351h1v1h-1z" fill="#aaa"/>
<path d="M260,318h1v1h-1zM179,328h1v1h-1zM185,319h1v1h-1z" fill="#999"/>
<path d="M98.10,29.50V111.10" stroke="#888" stroke-width="2.0"/>
<path d="M43.30,70.30H145.00" stroke="#222" stroke-width="1.1"/>
<rect x="43.30" y="29.50" width="101.70" height="81.60" fill="none" stroke="#222" stroke-width="1.1"/>
<path d="M43.30,111.10v2.2M43.30,111.10h-2.2M50.95,111.10v1.3M43.30,104.96h-1.3M55.43,111.10v1.3M43.30,101.37h-1.3M58.61,111.10v1.3M43.30,98.82h-1.3M61.07,111.10v1.3M43.30,96.84h-1.3M63.08,111.10v1.3M43.30,95.23h-1.3M64.79,111.10v1.3M43.30,93.86h-1.3M66.26,111.10v1.3M43.30,92.68h-1.3M67.56,111.10v1.3M43.30,91.63h-1.3M68.72,111.10v2.2M43.30,90.70h-2.2M76.38,111.10v1.3M43.30,84.56h-1.3M80.86,111.10v1.3M43.30,80.97h-1.3M84.03,111.10v1.3M43.30,78.42h-1.3M86.50,111.10v1.3M43.30,76.44h-1.3M88.51,111.10v1.3M43.30,74.83h-1.3M90.21,111.10v1.3M43.30,73.46h-1.3M91.69,111.10v1.3M43.30,72.28h-1.3M92.99,111.10v1.3M43.30,71.23h-1.3M94.15,111.10v2.2M43.30,70.30h-2.2M101.80,111.10v1.3M43.30,64.16h-1.3M106.28,111.10v1.3M43.30,60.57h-1.3M109.46,111.10v1.3M43.30,58.02h-1.3M111.92,111.10v1.3M43.30,56.04h-1.3M113.93,111.10v1.3M43.30,54.43h-1.3M115.64,111.10v1.3M43.30,53.06h-1.3M117.11,111.10v1.3M43.30,51.88h-1.3M118.41,111.10v1.3M43.30,50.83h-1.3M119.58,111.10v2.2M43.30,49.90h-2.2M127.23,111.10v1.3M43.30,43.76h-1.3M131.71,111.10v1.3M43.30,40.17h-1.3M134.88,111.10v1.3M43.30,37.62h-1.3M137.35,111.10v1.3M43.30,35.64h-1.3M139.36,111.10v1.3M43.30,34.03h-1.3M141.06,111.10v1.3M43.30,32.66h-1.3M142.54,111.10v1.3M43.30,31.48h-1.3M143.84,111.10v1.3M43.30,30.43h-1.3M145.00,111.10v2.2M43.30,29.50h-2.2" stroke="#333" stroke-width="0.9" fill="none"/>
<text x="39.10" y="121.50" font-family="Liberation Sans" font-size="7.2" textLength="5.8" lengthAdjust="spacingAndGlyphs" fill="#111" stroke="#111" stroke-width="0.12">10</text>
<text x="45.40" y="117.60" font-family="Liberation Sans" font-size="5.4" fill="#111" stroke="#111" stroke-width="0.1">0</text>
<text x="64.52" y="121.50" font-family="Liberation Sans" font-size="7.2" textLength="5.8" lengthAdjust="spacingAndGlyphs" fill="#111" stroke="#111" stroke-width="0.12">10</text>
<text x="70.82" y="117.60" font-family="Liberation Sans" font-size="5.4" fill="#111" stroke="#111" stroke-width="0.1">1</text>
<text x="89.95" y="121.50" font-family="Liberation Sans" font-size="7.2" textLength="5.8" lengthAdjust="spacingAndGlyphs" fill="#111" stroke="#111" stroke-width="0.12">10</text>
<text x="96.25" y="117.60" font-family="Liberation Sans" font-size="5.4" fill="#111" stroke="#111" stroke-width="0.1">2</text>
<text x="115.38" y="121.50" font-family="Liberation Sans" font-size="7.2" textLength="5.8" lengthAdjust="spacingAndGlyphs" fill="#111" stroke="#111" stroke-width="0.12">10</text>
<text x="121.67" y="117.60" font-family="Liberation Sans" font-size="5.4" fill="#111" stroke="#111" stroke-width="0.1">3</text>
<text x="140.80" y="121.50" font-family="Liberation Sans" font-size="7.2" textLength="5.8" lengthAdjust="spacingAndGlyphs" fill="#111" stroke="#111" stroke-width="0.12">10</text>
<text x="147.10" y="117.60" font-family="Liberation Sans" font-size="5.4" fill="#111" stroke="#111" stroke-width="0.1">4</text>
<g transform="translate(38.00,111.10) rotate(-90)"><text x="-4.4" y="0" font-family="Liberation Sans" font-size="6.6" textLength="6.1" lengthAdjust="spacingAndGlyphs" fill="#111" stroke="#111" stroke-width="0.12">10</text><text x="2.8" y="-4.2" font-family="Liberation Sans" font-size="5.4" fill="#111" stroke="#111" stroke-width="0.1">0</text></g>
<g transform="translate(38.00,90.70) rotate(-90)"><text x="-4.4" y="0" font-family="Liberation Sans" font-size="6.6" textLength="6.1" lengthAdjust="spacingAndGlyphs" fill="#111" stroke="#111" stroke-width="0.12">10</text><text x="2.8" y="-4.2" font-family="Liberation Sans" font-size="5.4" fill="#111" stroke="#111" stroke-width="0.1">1</text></g>
<g transform="translate(38.00,70.30) rotate(-90)"><text x="-4.4" y="0" font-family="Liberation Sans" font-size="6.6" textLength="6.1" lengthAdjust="spacingAndGlyphs" fill="#111" stroke="#111" stroke-width="0.12">10</text><text x="2.8" y="-4.2" font-family="Liberation Sans" font-size="5.4" fill="#111" stroke="#111" stroke-width="0.1">2</text></g>
<g transform="translate(38.00,49.90) rotate(-90)"><text x="-4.4" y="0" font-family="Liberation Sans" font-size="6.6" textLength="6.1" lengthAdjust="spacingAndGlyphs" fill="#111" stroke="#111" stroke-width="0.12">10</text><text x="2.8" y="-4.2" font-family="Liberation Sans" font-size="5.4" fill="#111" stroke="#111" stroke-width="0.1">3</text></g>
<g transform="translate(38.00,29.50) rotate(-90)"><text x="-4.4" y="0" font-family="Liberation Sans" font-size="6.6" textLength="6.1" lengthAdjust="spacingAndGlyphs" fill="#111" stroke="#111" stroke-width="0.12">10</text><text x="2.8" y="-4.2" font-family="Liberation Sans" font-size="5.4" fill="#111" stroke="#111" stroke-width="0.1">4</text></g>
<path d="M98.10,150.90V232.50" stroke="#888" stroke-width="2.0"/>
<path d="M43.30,191.70H145.00" stroke="#222" stroke-width="1.1"/>
<rect x="43.30" y="150.90" width="101.70" height="81.60" fill="none" stroke="#222" stroke-width="1.1"/>
<path d="M43.30,232.50v2.2M43.30,232.50h-2.2M50.95,232.50v1.3M43.30,226.36h-1.3M55.43,232.50v1.3M43.30,222.77h-1.3M58.61,232.50v1.3M43.30,220.22h-1.3M61.07,232.50v1.3M43.30,218.24h-1.3M63.08,232.50v1.3M43.30,216.63h-1.3M64.79,232.50v1.3M43.30,215.26h-1.3M66.26,232.50v1.3M43.30,214.08h-1.3M67.56,232.50v1.3M43.30,213.03h-1.3M68.72,232.50v2.2M43.30,212.10h-2.2M76.38,232.50v1.3M43.30,205.96h-1.3M80.86,232.50v1.3M43.30,202.37h-1.3M84.03,232.50v1.3M43.30,199.82h-1.3M86.50,232.50v1.3M43.30,197.84h-1.3M88.51,232.50v1.3M43.30,196.23h-1.3M90.21,232.50v1.3M43.30,194.86h-1.3M91.69,232.50v1.3M43.30,193.68h-1.3M92.99,232.50v1.3M43.30,192.63h-1.3M94.15,232.50v2.2M43.30,191.70h-2.2M101.80,232.50v1.3M43.30,185.56h-1.3M106.28,232.50v1.3M43.30,181.97h-1.3M109.46,232.50v1.3M43.30,179.42h-1.3M111.92,232.50v1.3M43.30,177.44h-1.3M113.93,232.50v1.3M43.30,175.83h-1.3M115.64,232.50v1.3M43.30,174.46h-1.3M117.11,232.50v1.3M43.30,173.28h-1.3M118.41,232.50v1.3M43.30,172.23h-1.3M119.58,232.50v2.2M43.30,171.30h-2.2M127.23,232.50v1.3M43.30,165.16h-1.3M131.71,232.50v1.3M43.30,161.57h-1.3M134.88,232.50v1.3M43.30,159.02h-1.3M137.35,232.50v1.3M43.30,157.04h-1.3M139.36,232.50v1.3M43.30,155.43h-1.3M141.06,232.50v1.3M43.30,154.06h-1.3M142.54,232.50v1.3M43.30,152.88h-1.3M143.84,232.50v1.3M43.30,151.83h-1.3M145.00,232.50v2.2M43.30,150.90h-2.2" stroke="#333" stroke-width="0.9" fill="none"/>
<text x="39.10" y="242.90" font-family="Liberation Sans" font-size="7.2" textLength="5.8" lengthAdjust="spacingAndGlyphs" fill="#111" stroke="#111" stroke-width="0.12">10</text>
<text x="45.40" y="239.00" font-family="Liberation Sans" font-size="5.4" fill="#111" stroke="#111" stroke-width="0.1">0</text>
<text x="64.52" y="242.90" font-family="Liberation Sans" font-size="7.2" textLength="5.8" lengthAdjust="spacingAndGlyphs" fill="#111" stroke="#111" stroke-width="0.12">10</text>
<text x="70.82" y="239.00" font-family="Liberation Sans" font-size="5.4" fill="#111" stroke="#111" stroke-width="0.1">1</text>
<text x="89.95" y="242.90" font-family="Liberation Sans" font-size="7.2" textLength="5.8" lengthAdjust="spacingAndGlyphs" fill="#111" stroke="#111" stroke-width="0.12">10</text>
<text x="96.25" y="239.00" font-family="Liberation Sans" font-size="5.4" fill="#111" stroke="#111" stroke-width="0.1">2</text>
<text x="115.38" y="242.90" font-family="Liberation Sans" font-size="7.2" textLength="5.8" lengthAdjust="spacingAndGlyphs" fill="#111" stroke="#111" stroke-width="0.12">10</text>
<text x="121.67" y="239.00" font-family="Liberation Sans" font-size="5.4" fill="#111" stroke="#111" stroke-width="0.1">3</text>
<text x="140.80" y="242.90" font-family="Liberation Sans" font-size="7.2" textLength="5.8" lengthAdjust="spacingAndGlyphs" fill="#111" stroke="#111" stroke-width="0.12">10</text>
<text x="147.10" y="239.00" font-family="Liberation Sans" font-size="5.4" fill="#111" stroke="#111" stroke-width="0.1">4</text>
<g transform="translate(38.00,232.50) rotate(-90)"><text x="-4.4" y="0" font-family="Liberation Sans" font-size="6.6" textLength="6.1" lengthAdjust="spacingAndGlyphs" fill="#111" stroke="#111" stroke-width="0.12">10</text><text x="2.8" y="-4.2" font-family="Liberation Sans" font-size="5.4" fill="#111" stroke="#111" stroke-width="0.1">0</text></g>
<g transform="translate(38.00,212.10) rotate(-90)"><text x="-4.4" y="0" font-family="Liberation Sans" font-size="6.6" textLength="6.1" lengthAdjust="spacingAndGlyphs" fill="#111" stroke="#111" stroke-width="0.12">10</text><text x="2.8" y="-4.2" font-family="Liberation Sans" font-size="5.4" fill="#111" stroke="#111" stroke-width="0.1">1</text></g>
<g transform="translate(38.00,191.70) rotate(-90)"><text x="-4.4" y="0" font-family="Liberation Sans" font-size="6.6" textLength="6.1" lengthAdjust="spacingAndGlyphs" fill="#111" stroke="#111" stroke-width="0.12">10</text><text x="2.8" y="-4.2" font-family="Liberation Sans" font-size="5.4" fill="#111" stroke="#111" stroke-width="0.1">2</text></g>
<g transform="translate(38.00,171.30) rotate(-90)"><text x="-4.4" y="0" font-family="Liberation Sans" font-size="6.6" textLength="6.1" lengthAdjust="spacingAndGlyphs" fill="#111" stroke="#111" stroke-width="0.12">10</text><text x="2.8" y="-4.2" font-family="Liberation Sans" font-size="5.4" fill="#111" stroke="#111" stroke-width="0.1">3</text></g>
<g transform="translate(38.00,150.90) rotate(-90)"><text x="-4.4" y="0" font-family="Liberation Sans" font-size="6.6" textLength="6.1" lengthAdjust="spacingAndGlyphs" fill="#111" stroke="#111" stroke-width="0.12">10</text><text x="2.8" y="-4.2" font-family="Liberation Sans" font-size="5.4" fill="#111" stroke="#111" stroke-width="0.1">4</text></g>
<path d="M98.10,273.40V355.00" stroke="#888" stroke-width="2.0"/>
<path d="M43.30,314.20H145.00" stroke="#222" stroke-width="1.1"/>
<rect x="43.30" y="273.40" width="101.70" height="81.60" fill="none" stroke="#222" stroke-width="1.1"/>
<path d="M43.30,355.00v2.2M43.30,355.00h-2.2M50.95,355.00v1.3M43.30,348.86h-1.3M55.43,355.00v1.3M43.30,345.27h-1.3M58.61,355.00v1.3M43.30,342.72h-1.3M61.07,355.00v1.3M43.30,340.74h-1.3M63.08,355.00v1.3M43.30,339.13h-1.3M64.79,355.00v1.3M43.30,337.76h-1.3M66.26,355.00v1.3M43.30,336.58h-1.3M67.56,355.00v1.3M43.30,335.53h-1.3M68.72,355.00v2.2M43.30,334.60h-2.2M76.38,355.00v1.3M43.30,328.46h-1.3M80.86,355.00v1.3M43.30,324.87h-1.3M84.03,355.00v1.3M43.30,322.32h-1.3M86.50,355.00v1.3M43.30,320.34h-1.3M88.51,355.00v1.3M43.30,318.73h-1.3M90.21,355.00v1.3M43.30,317.36h-1.3M91.69,355.00v1.3M43.30,316.18h-1.3M92.99,355.00v1.3M43.30,315.13h-1.3M94.15,355.00v2.2M43.30,314.20h-2.2M101.80,355.00v1.3M43.30,308.06h-1.3M106.28,355.00v1.3M43.30,304.47h-1.3M109.46,355.00v1.3M43.30,301.92h-1.3M111.92,355.00v1.3M43.30,299.94h-1.3M113.93,355.00v1.3M43.30,298.33h-1.3M115.64,355.00v1.3M43.30,296.96h-1.3M117.11,355.00v1.3M43.30,295.78h-1.3M118.41,355.00v1.3M43.30,294.73h-1.3M119.58,355.00v2.2M43.30,293.80h-2.2M127.23,355.00v1.3M43.30,287.66h-1.3M131.71,355.00v1.3M43.30,284.07h-1.3M134.88,355.00v1.3M43.30,281.52h-1.3M137.35,355.00v1.3M43.30,279.54h-1.3M139.36,355.00v1.3M43.30,277.93h-1.3M141.06,355.00v1.3M43.30,276.56h-1.3M142.54,355.00v1.3M43.30,275.38h-1.3M143.84,355.00v1.3M43.30,274.33h-1.3M145.00,355.00v2.2M43.30,273.40h-2.2" stroke="#333" stroke-width="0.9" fill="none"/>
<text x="39.10" y="365.40" font-family="Liberation Sans" font-size="7.2" textLength="5.8" lengthAdjust="spacingAndGlyphs" fill="#111" stroke="#111" stroke-width="0.12">10</text>
<text x="45.40" y="361.50" font-family="Liberation Sans" font-size="5.4" fill="#111" stroke="#111" stroke-width="0.1">0</text>
<text x="64.52" y="365.40" font-family="Liberation Sans" font-size="7.2" textLength="5.8" lengthAdjust="spacingAndGlyphs" fill="#111" stroke="#111" stroke-width="0.12">10</text>
<text x="70.82" y="361.50" font-family="Liberation Sans" font-size="5.4" fill="#111" stroke="#111" stroke-width="0.1">1</text>
<text x="89.95" y="365.40" font-family="Liberation Sans" font-size="7.2" textLength="5.8" lengthAdjust="spacingAndGlyphs" fill="#111" stroke="#111" stroke-width="0.12">10</text>
<text x="96.25" y="361.50" font-family="Liberation Sans" font-size="5.4" fill="#111" stroke="#111" stroke-width="0.1">2</text>
<text x="115.38" y="365.40" font-family="Liberation Sans" font-size="7.2" textLength="5.8" lengthAdjust="spacingAndGlyphs" fill="#111" stroke="#111" stroke-width="0.12">10</text>
<text x="121.67" y="361.50" font-family="Liberation Sans" font-size="5.4" fill="#111" stroke="#111" stroke-width="0.1">3</text>
<text x="140.80" y="365.40" font-family="Liberation Sans" font-size="7.2" textLength="5.8" lengthAdjust="spacingAndGlyphs" fill="#111" stroke="#111" stroke-width="0.12">10</text>
<text x="147.10" y="361.50" font-family="Liberation Sans" font-size="5.4" fill="#111" stroke="#111" stroke-width="0.1">4</text>
<g transform="translate(38.00,355.00) rotate(-90)"><text x="-4.4" y="0" font-family="Liberation Sans" font-size="6.6" textLength="6.1" lengthAdjust="spacingAndGlyphs" fill="#111" stroke="#111" stroke-width="0.12">10</text><text x="2.8" y="-4.2" font-family="Liberation Sans" font-size="5.4" fill="#111" stroke="#111" stroke-width="0.1">0</text></g>
<g transform="translate(38.00,334.60) rotate(-90)"><text x="-4.4" y="0" font-family="Liberation Sans" font-size="6.6" textLength="6.1" lengthAdjust="spacingAndGlyphs" fill="#111" stroke="#111" stroke-width="0.12">10</text><text x="2.8" y="-4.2" font-family="Liberation Sans" font-size="5.4" fill="#111" stroke="#111" stroke-width="0.1">1</text></g>
<g transform="translate(38.00,314.20) rotate(-90)"><text x="-4.4" y="0" font-family="Liberation Sans" font-size="6.6" textLength="6.1" lengthAdjust="spacingAndGlyphs" fill="#111" stroke="#111" stroke-width="0.12">10</text><text x="2.8" y="-4.2" font-family="Liberation Sans" font-size="5.4" fill="#111" stroke="#111" stroke-width="0.1">2</text></g>
<g transform="translate(38.00,293.80) rotate(-90)"><text x="-4.4" y="0" font-family="Liberation Sans" font-size="6.6" textLength="6.1" lengthAdjust="spacingAndGlyphs" fill="#111" stroke="#111" stroke-width="0.12">10</text><text x="2.8" y="-4.2" font-family="Liberation Sans" font-size="5.4" fill="#111" stroke="#111" stroke-width="0.1">3</text></g>
<g transform="translate(38.00,273.40) rotate(-90)"><text x="-4.4" y="0" font-family="Liberation Sans" font-size="6.6" textLength="6.1" lengthAdjust="spacingAndGlyphs" fill="#111" stroke="#111" stroke-width="0.12">10</text><text x="2.8" y="-4.2" font-family="Liberation Sans" font-size="5.4" fill="#111" stroke="#111" stroke-width="0.1">4</text></g>
<path d="M224.60,29.50V111.10" stroke="#222" stroke-width="1.1"/>
<path d="M169.60,70.30H271.40" stroke="#222" stroke-width="1.1"/>
<rect x="169.60" y="29.50" width="101.80" height="81.60" fill="none" stroke="#222" stroke-width="1.1"/>
<path d="M169.60,111.10v2.2M169.60,111.10h-2.2M177.26,111.10v1.3M169.60,104.96h-1.3M181.74,111.10v1.3M169.60,101.37h-1.3M184.92,111.10v1.3M169.60,98.82h-1.3M187.39,111.10v1.3M169.60,96.84h-1.3M189.40,111.10v1.3M169.60,95.23h-1.3M191.11,111.10v1.3M169.60,93.86h-1.3M192.58,111.10v1.3M169.60,92.68h-1.3M193.89,111.10v1.3M169.60,91.63h-1.3M195.05,111.10v2.2M169.60,90.70h-2.2M202.71,111.10v1.3M169.60,84.56h-1.3M207.19,111.10v1.3M169.60,80.97h-1.3M210.37,111.10v1.3M169.60,78.42h-1.3M212.84,111.10v1.3M169.60,76.44h-1.3M214.85,111.10v1.3M169.60,74.83h-1.3M216.56,111.10v1.3M169.60,73.46h-1.3M218.03,111.10v1.3M169.60,72.28h-1.3M219.34,111.10v1.3M169.60,71.23h-1.3M220.50,111.10v2.2M169.60,70.30h-2.2M228.16,111.10v1.3M169.60,64.16h-1.3M232.64,111.10v1.3M169.60,60.57h-1.3M235.82,111.10v1.3M169.60,58.02h-1.3M238.29,111.10v1.3M169.60,56.04h-1.3M240.30,111.10v1.3M169.60,54.43h-1.3M242.01,111.10v1.3M169.60,53.06h-1.3M243.48,111.10v1.3M169.60,51.88h-1.3M244.79,111.10v1.3M169.60,50.83h-1.3M245.95,111.10v2.2M169.60,49.90h-2.2M253.61,111.10v1.3M169.60,43.76h-1.3M258.09,111.10v1.3M169.60,40.17h-1.3M261.27,111.10v1.3M169.60,37.62h-1.3M263.74,111.10v1.3M169.60,35.64h-1.3M265.75,111.10v1.3M169.60,34.03h-1.3M267.46,111.10v1.3M169.60,32.66h-1.3M268.93,111.10v1.3M169.60,31.48h-1.3M270.24,111.10v1.3M169.60,30.43h-1.3M271.40,111.10v2.2M169.60,29.50h-2.2" stroke="#333" stroke-width="0.9" fill="none"/>
<text x="165.40" y="121.50" font-family="Liberation Sans" font-size="7.2" textLength="5.8" lengthAdjust="spacingAndGlyphs" fill="#111" stroke="#111" stroke-width="0.12">10</text>
<text x="171.70" y="117.60" font-family="Liberation Sans" font-size="5.4" fill="#111" stroke="#111" stroke-width="0.1">0</text>
<text x="190.85" y="121.50" font-family="Liberation Sans" font-size="7.2" textLength="5.8" lengthAdjust="spacingAndGlyphs" fill="#111" stroke="#111" stroke-width="0.12">10</text>
<text x="197.15" y="117.60" font-family="Liberation Sans" font-size="5.4" fill="#111" stroke="#111" stroke-width="0.1">1</text>
<text x="216.30" y="121.50" font-family="Liberation Sans" font-size="7.2" textLength="5.8" lengthAdjust="spacingAndGlyphs" fill="#111" stroke="#111" stroke-width="0.12">10</text>
<text x="222.60" y="117.60" font-family="Liberation Sans" font-size="5.4" fill="#111" stroke="#111" stroke-width="0.1">2</text>
<text x="241.75" y="121.50" font-family="Liberation Sans" font-size="7.2" textLength="5.8" lengthAdjust="spacingAndGlyphs" fill="#111" stroke="#111" stroke-width="0.12">10</text>
<text x="248.05" y="117.60" font-family="Liberation Sans" font-size="5.4" fill="#111" stroke="#111" stroke-width="0.1">3</text>
<text x="267.20" y="121.50" font-family="Liberation Sans" font-size="7.2" textLength="5.8" lengthAdjust="spacingAndGlyphs" fill="#111" stroke="#111" stroke-width="0.12">10</text>
<text x="273.50" y="117.60" font-family="Liberation Sans" font-size="5.4" fill="#111" stroke="#111" stroke-width="0.1">4</text>
<g transform="translate(164.30,111.10) rotate(-90)"><text x="-4.4" y="0" font-family="Liberation Sans" font-size="6.6" textLength="6.1" lengthAdjust="spacingAndGlyphs" fill="#111" stroke="#111" stroke-width="0.12">10</text><text x="2.8" y="-4.2" font-family="Liberation Sans" font-size="5.4" fill="#111" stroke="#111" stroke-width="0.1">0</text></g>
<g transform="translate(164.30,90.70) rotate(-90)"><text x="-4.4" y="0" font-family="Liberation Sans" font-size="6.6" textLength="6.1" lengthAdjust="spacingAndGlyphs" fill="#111" stroke="#111" stroke-width="0.12">10</text><text x="2.8" y="-4.2" font-family="Liberation Sans" font-size="5.4" fill="#111" stroke="#111" stroke-width="0.1">1</text></g>
<g transform="translate(164.30,70.30) rotate(-90)"><text x="-4.4" y="0" font-family="Liberation Sans" font-size="6.6" textLength="6.1" lengthAdjust="spacingAndGlyphs" fill="#111" stroke="#111" stroke-width="0.12">10</text><text x="2.8" y="-4.2" font-family="Liberation Sans" font-size="5.4" fill="#111" stroke="#111" stroke-width="0.1">2</text></g>
<g transform="translate(164.30,49.90) rotate(-90)"><text x="-4.4" y="0" font-family="Liberation Sans" font-size="6.6" textLength="6.1" lengthAdjust="spacingAndGlyphs" fill="#111" stroke="#111" stroke-width="0.12">10</text><text x="2.8" y="-4.2" font-family="Liberation Sans" font-size="5.4" fill="#111" stroke="#111" stroke-width="0.1">3</text></g>
<g transform="translate(164.30,29.50) rotate(-90)"><text x="-4.4" y="0" font-family="Liberation Sans" font-size="6.6" textLength="6.1" lengthAdjust="spacingAndGlyphs" fill="#111" stroke="#111" stroke-width="0.12">10</text><text x="2.8" y="-4.2" font-family="Liberation Sans" font-size="5.4" fill="#111" stroke="#111" stroke-width="0.1">4</text></g>
<path d="M224.60,150.90V232.50" stroke="#222" stroke-width="1.1"/>
<path d="M169.60,191.70H271.40" stroke="#222" stroke-width="1.1"/>
<rect x="169.60" y="150.90" width="101.80" height="81.60" fill="none" stroke="#222" stroke-width="1.1"/>
<path d="M169.60,232.50v2.2M169.60,232.50h-2.2M177.26,232.50v1.3M169.60,226.36h-1.3M181.74,232.50v1.3M169.60,222.77h-1.3M184.92,232.50v1.3M169.60,220.22h-1.3M187.39,232.50v1.3M169.60,218.24h-1.3M189.40,232.50v1.3M169.60,216.63h-1.3M191.11,232.50v1.3M169.60,215.26h-1.3M192.58,232.50v1.3M169.60,214.08h-1.3M193.89,232.50v1.3M169.60,213.03h-1.3M195.05,232.50v2.2M169.60,212.10h-2.2M202.71,232.50v1.3M169.60,205.96h-1.3M207.19,232.50v1.3M169.60,202.37h-1.3M210.37,232.50v1.3M169.60,199.82h-1.3M212.84,232.50v1.3M169.60,197.84h-1.3M214.85,232.50v1.3M169.60,196.23h-1.3M216.56,232.50v1.3M169.60,194.86h-1.3M218.03,232.50v1.3M169.60,193.68h-1.3M219.34,232.50v1.3M169.60,192.63h-1.3M220.50,232.50v2.2M169.60,191.70h-2.2M228.16,232.50v1.3M169.60,185.56h-1.3M232.64,232.50v1.3M169.60,181.97h-1.3M235.82,232.50v1.3M169.60,179.42h-1.3M238.29,232.50v1.3M169.60,177.44h-1.3M240.30,232.50v1.3M169.60,175.83h-1.3M242.01,232.50v1.3M169.60,174.46h-1.3M243.48,232.50v1.3M169.60,173.28h-1.3M244.79,232.50v1.3M169.60,172.23h-1.3M245.95,232.50v2.2M169.60,171.30h-2.2M253.61,232.50v1.3M169.60,165.16h-1.3M258.09,232.50v1.3M169.60,161.57h-1.3M261.27,232.50v1.3M169.60,159.02h-1.3M263.74,232.50v1.3M169.60,157.04h-1.3M265.75,232.50v1.3M169.60,155.43h-1.3M267.46,232.50v1.3M169.60,154.06h-1.3M268.93,232.50v1.3M169.60,152.88h-1.3M270.24,232.50v1.3M169.60,151.83h-1.3M271.40,232.50v2.2M169.60,150.90h-2.2" stroke="#333" stroke-width="0.9" fill="none"/>
<text x="165.40" y="242.90" font-family="Liberation Sans" font-size="7.2" textLength="5.8" lengthAdjust="spacingAndGlyphs" fill="#111" stroke="#111" stroke-width="0.12">10</text>
<text x="171.70" y="239.00" font-family="Liberation Sans" font-size="5.4" fill="#111" stroke="#111" stroke-width="0.1">0</text>
<text x="190.85" y="242.90" font-family="Liberation Sans" font-size="7.2" textLength="5.8" lengthAdjust="spacingAndGlyphs" fill="#111" stroke="#111" stroke-width="0.12">10</text>
<text x="197.15" y="239.00" font-family="Liberation Sans" font-size="5.4" fill="#111" stroke="#111" stroke-width="0.1">1</text>
<text x="216.30" y="242.90" font-family="Liberation Sans" font-size="7.2" textLength="5.8" lengthAdjust="spacingAndGlyphs" fill="#111" stroke="#111" stroke-width="0.12">10</text>
<text x="222.60" y="239.00" font-family="Liberation Sans" font-size="5.4" fill="#111" stroke="#111" stroke-width="0.1">2</text>
<text x="241.75" y="242.90" font-family="Liberation Sans" font-size="7.2" textLength="5.8" lengthAdjust="spacingAndGlyphs" fill="#111" stroke="#111" stroke-width="0.12">10</text>
<text x="248.05" y="239.00" font-family="Liberation Sans" font-size="5.4" fill="#111" stroke="#111" stroke-width="0.1">3</text>
<text x="267.20" y="242.90" font-family="Liberation Sans" font-size="7.2" textLength="5.8" lengthAdjust="spacingAndGlyphs" fill="#111" stroke="#111" stroke-width="0.12">10</text>
<text x="273.50" y="239.00" font-family="Liberation Sans" font-size="5.4" fill="#111" stroke="#111" stroke-width="0.1">4</text>
<g transform="translate(164.30,232.50) rotate(-90)"><text x="-4.4" y="0" font-family="Liberation Sans" font-size="6.6" textLength="6.1" lengthAdjust="spacingAndGlyphs" fill="#111" stroke="#111" stroke-width="0.12">10</text><text x="2.8" y="-4.2" font-family="Liberation Sans" font-size="5.4" fill="#111" stroke="#111" stroke-width="0.1">0</text></g>
<g transform="translate(164.30,212.10) rotate(-90)"><text x="-4.4" y="0" font-family="Liberation Sans" font-size="6.6" textLength="6.1" lengthAdjust="spacingAndGlyphs" fill="#111" stroke="#111" stroke-width="0.12">10</text><text x="2.8" y="-4.2" font-family="Liberation Sans" font-size="5.4" fill="#111" stroke="#111" stroke-width="0.1">1</text></g>
<g transform="translate(164.30,191.70) rotate(-90)"><text x="-4.4" y="0" font-family="Liberation Sans" font-size="6.6" textLength="6.1" lengthAdjust="spacingAndGlyphs" fill="#111" stroke="#111" stroke-width="0.12">10</text><text x="2.8" y="-4.2" font-family="Liberation Sans" font-size="5.4" fill="#111" stroke="#111" stroke-width="0.1">2</text></g>
<g transform="translate(164.30,171.30) rotate(-90)"><text x="-4.4" y="0" font-family="Liberation Sans" font-size="6.6" textLength="6.1" lengthAdjust="spacingAndGlyphs" fill="#111" stroke="#111" stroke-width="0.12">10</text><text x="2.8" y="-4.2" font-family="Liberation Sans" font-size="5.4" fill="#111" stroke="#111" stroke-width="0.1">3</text></g>
<g transform="translate(164.30,150.90) rotate(-90)"><text x="-4.4" y="0" font-family="Liberation Sans" font-size="6.6" textLength="6.1" lengthAdjust="spacingAndGlyphs" fill="#111" stroke="#111" stroke-width="0.12">10</text><text x="2.8" y="-4.2" font-family="Liberation Sans" font-size="5.4" fill="#111" stroke="#111" stroke-width="0.1">4</text></g>
<path d="M224.60,273.40V355.00" stroke="#222" stroke-width="1.1"/>
<path d="M169.60,314.20H271.40" stroke="#222" stroke-width="1.1"/>
<rect x="169.60" y="273.40" width="101.80" height="81.60" fill="none" stroke="#222" stroke-width="1.1"/>
<path d="M169.60,355.00v2.2M169.60,355.00h-2.2M177.26,355.00v1.3M169.60,348.86h-1.3M181.74,355.00v1.3M169.60,345.27h-1.3M184.92,355.00v1.3M169.60,342.72h-1.3M187.39,355.00v1.3M169.60,340.74h-1.3M189.40,355.00v1.3M169.60,339.13h-1.3M191.11,355.00v1.3M169.60,337.76h-1.3M192.58,355.00v1.3M169.60,336.58h-1.3M193.89,355.00v1.3M169.60,335.53h-1.3M195.05,355.00v2.2M169.60,334.60h-2.2M202.71,355.00v1.3M169.60,328.46h-1.3M207.19,355.00v1.3M169.60,324.87h-1.3M210.37,355.00v1.3M169.60,322.32h-1.3M212.84,355.00v1.3M169.60,320.34h-1.3M214.85,355.00v1.3M169.60,318.73h-1.3M216.56,355.00v1.3M169.60,317.36h-1.3M218.03,355.00v1.3M169.60,316.18h-1.3M219.34,355.00v1.3M169.60,315.13h-1.3M220.50,355.00v2.2M169.60,314.20h-2.2M228.16,355.00v1.3M169.60,308.06h-1.3M232.64,355.00v1.3M169.60,304.47h-1.3M235.82,355.00v1.3M169.60,301.92h-1.3M238.29,355.00v1.3M169.60,299.94h-1.3M240.30,355.00v1.3M169.60,298.33h-1.3M242.01,355.00v1.3M169.60,296.96h-1.3M243.48,355.00v1.3M169.60,295.78h-1.3M244.79,355.00v1.3M169.60,294.73h-1.3M245.95,355.00v2.2M169.60,293.80h-2.2M253.61,355.00v1.3M169.60,287.66h-1.3M258.09,355.00v1.3M169.60,284.07h-1.3M261.27,355.00v1.3M169.60,281.52h-1.3M263.74,355.00v1.3M169.60,279.54h-1.3M265.75,355.00v1.3M169.60,277.93h-1.3M267.46,355.00v1.3M169.60,276.56h-1.3M268.93,355.00v1.3M169.60,275.38h-1.3M270.24,355.00v1.3M169.60,274.33h-1.3M271.40,355.00v2.2M169.60,273.40h-2.2" stroke="#333" stroke-width="0.9" fill="none"/>
<text x="165.40" y="365.40" font-family="Liberation Sans" font-size="7.2" textLength="5.8" lengthAdjust="spacingAndGlyphs" fill="#111" stroke="#111" stroke-width="0.12">10</text>
<text x="171.70" y="361.50" font-family="Liberation Sans" font-size="5.4" fill="#111" stroke="#111" stroke-width="0.1">0</text>
<text x="190.85" y="365.40" font-family="Liberation Sans" font-size="7.2" textLength="5.8" lengthAdjust="spacingAndGlyphs" fill="#111" stroke="#111" stroke-width="0.12">10</text>
<text x="197.15" y="361.50" font-family="Liberation Sans" font-size="5.4" fill="#111" stroke="#111" stroke-width="0.1">1</text>
<text x="216.30" y="365.40" font-family="Liberation Sans" font-size="7.2" textLength="5.8" lengthAdjust="spacingAndGlyphs" fill="#111" stroke="#111" stroke-width="0.12">10</text>
<text x="222.60" y="361.50" font-family="Liberation Sans" font-size="5.4" fill="#111" stroke="#111" stroke-width="0.1">2</text>
<text x="241.75" y="365.40" font-family="Liberation Sans" font-size="7.2" textLength="5.8" lengthAdjust="spacingAndGlyphs" fill="#111" stroke="#111" stroke-width="0.12">10</text>
<text x="248.05" y="361.50" font-family="Liberation Sans" font-size="5.4" fill="#111" stroke="#111" stroke-width="0.1">3</text>
<text x="267.20" y="365.40" font-family="Liberation Sans" font-size="7.2" textLength="5.8" lengthAdjust="spacingAndGlyphs" fill="#111" stroke="#111" stroke-width="0.12">10</text>
<text x="273.50" y="361.50" font-family="Liberation Sans" font-size="5.4" fill="#111" stroke="#111" stroke-width="0.1">4</text>
<g transform="translate(164.30,355.00) rotate(-90)"><text x="-4.4" y="0" font-family="Liberation Sans" font-size="6.6" textLength="6.1" lengthAdjust="spacingAndGlyphs" fill="#111" stroke="#111" stroke-width="0.12">10</text><text x="2.8" y="-4.2" font-family="Liberation Sans" font-size="5.4" fill="#111" stroke="#111" stroke-width="0.1">0</text></g>
<g transform="translate(164.30,334.60) rotate(-90)"><text x="-4.4" y="0" font-family="Liberation Sans" font-size="6.6" textLength="6.1" lengthAdjust="spacingAndGlyphs" fill="#111" stroke="#111" stroke-width="0.12">10</text><text x="2.8" y="-4.2" font-family="Liberation Sans" font-size="5.4" fill="#111" stroke="#111" stroke-width="0.1">1</text></g>
<g transform="translate(164.30,314.20) rotate(-90)"><text x="-4.4" y="0" font-family="Liberation Sans" font-size="6.6" textLength="6.1" lengthAdjust="spacingAndGlyphs" fill="#111" stroke="#111" stroke-width="0.12">10</text><text x="2.8" y="-4.2" font-family="Liberation Sans" font-size="5.4" fill="#111" stroke="#111" stroke-width="0.1">2</text></g>
<g transform="translate(164.30,293.80) rotate(-90)"><text x="-4.4" y="0" font-family="Liberation Sans" font-size="6.6" textLength="6.1" lengthAdjust="spacingAndGlyphs" fill="#111" stroke="#111" stroke-width="0.12">10</text><text x="2.8" y="-4.2" font-family="Liberation Sans" font-size="5.4" fill="#111" stroke="#111" stroke-width="0.1">3</text></g>
<g transform="translate(164.30,273.40) rotate(-90)"><text x="-4.4" y="0" font-family="Liberation Sans" font-size="6.6" textLength="6.1" lengthAdjust="spacingAndGlyphs" fill="#111" stroke="#111" stroke-width="0.12">10</text><text x="2.8" y="-4.2" font-family="Liberation Sans" font-size="5.4" fill="#111" stroke="#111" stroke-width="0.1">4</text></g>
<text x="98.9" y="67.7" font-family="Liberation Serif" font-weight="bold" stroke="#111" stroke-width="0.25" font-size="9.9" fill="#111">0.21</text>
<text x="98.9" y="107.5" font-family="Liberation Serif" font-weight="bold" stroke="#111" stroke-width="0.25" font-size="9.9" fill="#111">0.01</text>
<text x="225.4" y="67.7" font-family="Liberation Serif" font-weight="bold" stroke="#111" stroke-width="0.25" font-size="9.9" fill="#111">1.1</text>
<text x="98.9" y="189.1" font-family="Liberation Serif" font-weight="bold" stroke="#111" stroke-width="0.25" font-size="9.9" fill="#111">0.43</text>
<text x="98.9" y="228.9" font-family="Liberation Serif" font-weight="bold" stroke="#111" stroke-width="0.25" font-size="9.9" fill="#111">0.07</text>
<text x="225.4" y="189.1" font-family="Liberation Serif" font-weight="bold" stroke="#111" stroke-width="0.25" font-size="9.9" fill="#111">0.86</text>
<text x="98.9" y="311.6" font-family="Liberation Serif" font-weight="bold" stroke="#111" stroke-width="0.25" font-size="9.9" fill="#111">0.62</text>
<text x="98.9" y="351.4" font-family="Liberation Serif" font-weight="bold" stroke="#111" stroke-width="0.25" font-size="9.9" fill="#111">0.12</text>
<text x="225.4" y="311.6" font-family="Liberation Serif" font-weight="bold" stroke="#111" stroke-width="0.25" font-size="9.9" fill="#111">1.2</text>
<text x="0" y="20.3" font-family="Liberation Serif" font-weight="bold" stroke="#111" stroke-width="0.25" font-size="28.5" fill="#000">A</text>
<text x="53" y="8.6" font-family="Liberation Serif" font-weight="bold" stroke="#111" stroke-width="0.25" font-size="12.8" fill="#111">Immature DC</text>
<text x="188.5" y="8.6" font-family="Liberation Serif" font-weight="bold" stroke="#111" stroke-width="0.25" font-size="12.8" fill="#111">Mature DC</text>
<text x="144.6" y="25.4" font-family="Liberation Serif" font-weight="bold" stroke="#111" stroke-width="0.25" font-size="12.8" text-anchor="end" fill="#111">1.8%</text>
<text x="270.6" y="25.4" font-family="Liberation Serif" font-weight="bold" stroke="#111" stroke-width="0.25" font-size="12.8" text-anchor="end" fill="#111">10%</text>
<text x="43.8" y="146.6" font-family="Liberation Serif" font-weight="bold" stroke="#111" stroke-width="0.25" font-size="12.8" fill="#111">Imiquimod</text>
<text x="144.6" y="146.6" font-family="Liberation Serif" font-weight="bold" stroke="#111" stroke-width="0.25" font-size="12.8" text-anchor="end" fill="#111">6.5%</text>
<text x="270.6" y="146.6" font-family="Liberation Serif" font-weight="bold" stroke="#111" stroke-width="0.25" font-size="12.8" text-anchor="end" fill="#111">10%</text>
<text x="43.8" y="268.1" font-family="Liberation Serif" font-weight="bold" stroke="#111" stroke-width="0.25" font-size="12.8" fill="#111">Poly-arg</text>
<text x="144.6" y="268.1" font-family="Liberation Serif" font-weight="bold" stroke="#111" stroke-width="0.25" font-size="12.8" text-anchor="end" fill="#111">6.2%</text>
<text x="270.6" y="268.1" font-family="Liberation Serif" font-weight="bold" stroke="#111" stroke-width="0.25" font-size="12.8" text-anchor="end" fill="#111">12%</text>
<path d="M20.6,281V96" stroke="#111" stroke-width="1"/>
<path d="M20.5,89.5L17.3,98L23.7,98Z" fill="#000"/>
<g transform="translate(24.8,357.6) rotate(-90)"><text x="0" y="0" font-family="Liberation Serif" font-weight="bold" stroke="#111" stroke-width="0.25" font-size="13.45" fill="#111">Class II-APC</text></g>
<text x="41" y="378" font-family="Liberation Serif" font-weight="bold" stroke="#111" stroke-width="0.25" font-size="12.7" fill="#111">CFSE</text>
<path d="M76,373.5H187" stroke="#111" stroke-width="1"/>
<path d="M194.5,373.4L186,370.6L186,376.2Z" fill="#000"/>
<text x="297" y="20.5" font-family="Liberation Serif" font-weight="bold" stroke="#111" stroke-width="0.25" font-size="28.5" fill="#000">B</text>
<text x="371.5" y="67.1" font-family="Liberation Serif" font-weight="bold" stroke="#111" stroke-width="0.25" font-size="13.3" text-anchor="middle" fill="#111">EL4-OVA</text>
<text x="470.1" y="67.1" font-family="Liberation Serif" font-weight="bold" stroke="#111" stroke-width="0.25" font-size="13.3" text-anchor="middle" fill="#111">EL4</text>
<text x="318.5" y="294.40" font-family="Liberation Serif" font-weight="bold" stroke="#111" stroke-width="0.25" font-size="9.7" text-anchor="end" fill="#111">0</text>
<text x="318.5" y="269.87" font-family="Liberation Serif" font-weight="bold" stroke="#111" stroke-width="0.25" font-size="9.7" text-anchor="end" fill="#111">5</text>
<text x="318.5" y="245.33" font-family="Liberation Serif" font-weight="bold" stroke="#111" stroke-width="0.25" font-size="9.7" text-anchor="end" fill="#111">10</text>
<text x="318.5" y="220.80" font-family="Liberation Serif" font-weight="bold" stroke="#111" stroke-width="0.25" font-size="9.7" text-anchor="end" fill="#111">15</text>
<text x="318.5" y="196.27" font-family="Liberation Serif" font-weight="bold" stroke="#111" stroke-width="0.25" font-size="9.7" text-anchor="end" fill="#111">20</text>
<text x="318.5" y="171.73" font-family="Liberation Serif" font-weight="bold" stroke="#111" stroke-width="0.25" font-size="9.7" text-anchor="end" fill="#111">25</text>
<text x="318.5" y="147.20" font-family="Liberation Serif" font-weight="bold" stroke="#111" stroke-width="0.25" font-size="9.7" text-anchor="end" fill="#111">30</text>
<text x="318.5" y="122.67" font-family="Liberation Serif" font-weight="bold" stroke="#111" stroke-width="0.25" font-size="9.7" text-anchor="end" fill="#111">35</text>
<text x="318.5" y="98.13" font-family="Liberation Serif" font-weight="bold" stroke="#111" stroke-width="0.25" font-size="9.7" text-anchor="end" fill="#111">40</text>
<text x="318.5" y="73.60" font-family="Liberation Serif" font-weight="bold" stroke="#111" stroke-width="0.25" font-size="9.7" text-anchor="end" fill="#111">45</text>
<text x="336.5" y="304.6" font-family="Liberation Serif" font-weight="bold" stroke="#111" stroke-width="0.25" font-size="9.8" text-anchor="middle" fill="#111">10:1</text>
<text x="360.5" y="304.6" font-family="Liberation Serif" font-weight="bold" stroke="#111" stroke-width="0.25" font-size="9.8" text-anchor="middle" fill="#111">20:1</text>
<text x="384.5" y="304.6" font-family="Liberation Serif" font-weight="bold" stroke="#111" stroke-width="0.25" font-size="9.8" text-anchor="middle" fill="#111">40:1</text>
<text x="408.8" y="304.6" font-family="Liberation Serif" font-weight="bold" stroke="#111" stroke-width="0.25" font-size="9.8" text-anchor="middle" fill="#111">80:1</text>
<text x="433.5" y="304.6" font-family="Liberation Serif" font-weight="bold" stroke="#111" stroke-width="0.25" font-size="9.8" text-anchor="middle" fill="#111">10:1</text>
<text x="458.0" y="304.6" font-family="Liberation Serif" font-weight="bold" stroke="#111" stroke-width="0.25" font-size="9.8" text-anchor="middle" fill="#111">20:1</text>
<text x="482.5" y="304.6" font-family="Liberation Serif" font-weight="bold" stroke="#111" stroke-width="0.25" font-size="9.8" text-anchor="middle" fill="#111">40:1</text>
<text x="506.8" y="304.6" font-family="Liberation Serif" font-weight="bold" stroke="#111" stroke-width="0.25" font-size="9.8" text-anchor="middle" fill="#111">80:1</text>
<text x="420.6" y="320.0" font-family="Liberation Serif" font-weight="bold" stroke="#111" stroke-width="0.25" font-size="12.8" text-anchor="middle" fill="#111">E:T</text>
<g transform="translate(301.3,180) rotate(-90)"><text x="0" y="0" font-family="Liberation Serif" font-weight="bold" stroke="#111" stroke-width="0.25" font-size="13" text-anchor="middle" fill="#111">Specific lysis (%)</text></g>
<path d="M408.80,103.85V74.41M406.80,103.85h4M406.80,74.41h4" stroke="#222" stroke-width="0.9" fill="none"/>
<path d="M360.50,172.54V152.91M358.50,172.54h4M358.50,152.91h4" stroke="#222" stroke-width="0.9" fill="none"/>
<path d="M408.80,216.70V197.07M406.80,216.70h4M406.80,197.07h4" stroke="#222" stroke-width="0.9" fill="none"/>
<path d="M384.50,235.35V212.77M382.50,235.35h4M382.50,212.77h4" stroke="#222" stroke-width="0.9" fill="none"/>
<path d="M360.50,246.14V231.42M358.50,246.14h4M358.50,231.42h4" stroke="#222" stroke-width="0.9" fill="none"/>
<path d="M384.50,235.35V214.25M382.50,235.35h4M382.50,214.25h4" stroke="#222" stroke-width="0.9" fill="none"/>
<path d="M384.50,181.37V172.54M382.50,181.37h4M382.50,172.54h4" stroke="#222" stroke-width="0.9" fill="none"/>
<path d="M360.50,208.85V199.04M358.50,208.85h4M358.50,199.04h4" stroke="#222" stroke-width="0.9" fill="none"/>
<path d="M360.50,223.57V211.79M358.50,223.57h4M358.50,211.79h4" stroke="#222" stroke-width="0.9" fill="none"/>
<path d="M506.80,226.51V216.70M504.80,226.51h4M504.80,216.70h4" stroke="#222" stroke-width="0.9" fill="none"/>
<path d="M482.50,243.69V237.31M480.50,243.69h4M480.50,237.31h4" stroke="#222" stroke-width="0.9" fill="none"/>
<path d="M506.80,268.22V258.41M504.80,268.22h4M504.80,258.41h4" stroke="#222" stroke-width="0.9" fill="none"/>
<path d="M482.50,276.56V265.77M480.50,276.56h4M480.50,265.77h4" stroke="#222" stroke-width="0.9" fill="none"/>
<path d="M458.00,287.85V278.03M456.00,287.85h4M456.00,278.03h4" stroke="#222" stroke-width="0.9" fill="none"/>
<path d="M506.80,237.31V229.46M504.80,237.31h4M504.80,229.46h4" stroke="#222" stroke-width="0.9" fill="none"/>
<polyline points="336.50,254.48 360.50,241.23 384.50,221.12 408.80,207.87" fill="none" stroke="#111" stroke-width="1.2"/>
<polyline points="433.50,287.36 458.00,283.92 482.50,270.67 506.80,262.82" fill="none" stroke="#111" stroke-width="1.2"/>
<polyline points="336.50,246.63 360.50,240.74 384.50,226.51 408.80,206.89" fill="none" stroke="#111" stroke-width="1.2"/>
<polyline points="433.50,284.41 458.00,280.00 482.50,267.73 506.80,260.86" fill="none" stroke="#111" stroke-width="1.2"/>
<polyline points="336.50,209.34 360.50,161.75 384.50,123.47 408.80,89.13" fill="none" stroke="#111" stroke-width="1.2"/>
<polyline points="433.50,263.31 458.00,250.56 482.50,241.23 506.80,222.10" fill="none" stroke="#111" stroke-width="1.2"/>
<polyline points="336.50,226.51 360.50,215.72 384.50,190.69 408.80,137.21" fill="none" stroke="#111" stroke-width="1.2"/>
<polyline points="433.50,285.88 458.00,269.69 482.50,259.39 506.80,247.12" fill="none" stroke="#111" stroke-width="1.2"/>
<polyline points="336.50,242.21 360.50,219.15 384.50,193.15 408.80,157.82" fill="none" stroke="#111" stroke-width="1.2"/>
<polyline points="433.50,281.47 458.00,271.65 482.50,261.84 506.80,253.01" fill="none" stroke="#111" stroke-width="1.2"/>
<polyline points="336.50,233.87 360.50,203.94 384.50,176.96 408.80,142.12" fill="none" stroke="#111" stroke-width="1.2"/>
<polyline points="433.50,275.58 458.00,258.41 482.50,251.05 506.80,233.38" fill="none" stroke="#111" stroke-width="1.2"/>
<rect x="332.90" y="250.88" width="7.2" height="7.2" fill="#000" stroke="#000" stroke-width="0.9"/>
<rect x="356.90" y="237.63" width="7.2" height="7.2" fill="#000" stroke="#000" stroke-width="0.9"/>
<rect x="380.90" y="217.52" width="7.2" height="7.2" fill="#000" stroke="#000" stroke-width="0.9"/>
<rect x="405.20" y="204.27" width="7.2" height="7.2" fill="#000" stroke="#000" stroke-width="0.9"/>
<rect x="429.90" y="283.76" width="7.2" height="7.2" fill="#000" stroke="#000" stroke-width="0.9"/>
<rect x="454.40" y="280.32" width="7.2" height="7.2" fill="#000" stroke="#000" stroke-width="0.9"/>
<rect x="478.90" y="267.07" width="7.2" height="7.2" fill="#000" stroke="#000" stroke-width="0.9"/>
<rect x="503.20" y="259.22" width="7.2" height="7.2" fill="#000" stroke="#000" stroke-width="0.9"/>
<path d="M336.50,242.43L340.70,249.93L332.30,249.93Z" fill="#000" stroke="#000" stroke-width="0.9"/>
<path d="M360.50,236.54L364.70,244.04L356.30,244.04Z" fill="#000" stroke="#000" stroke-width="0.9"/>
<path d="M384.50,222.31L388.70,229.81L380.30,229.81Z" fill="#000" stroke="#000" stroke-width="0.9"/>
<path d="M408.80,202.69L413.00,210.19L404.60,210.19Z" fill="#000" stroke="#000" stroke-width="0.9"/>
<path d="M433.50,280.21L437.70,287.71L429.30,287.71Z" fill="#000" stroke="#000" stroke-width="0.9"/>
<path d="M458.00,275.80L462.20,283.30L453.80,283.30Z" fill="#000" stroke="#000" stroke-width="0.9"/>
<path d="M482.50,263.53L486.70,271.03L478.30,271.03Z" fill="#000" stroke="#000" stroke-width="0.9"/>
<path d="M506.80,256.66L511.00,264.16L502.60,264.16Z" fill="#000" stroke="#000" stroke-width="0.9"/>
<circle cx="336.50" cy="209.34" r="3.9" fill="#000" stroke="#000" stroke-width="0.9"/>
<circle cx="360.50" cy="161.75" r="3.9" fill="#000" stroke="#000" stroke-width="0.9"/>
<circle cx="384.50" cy="123.47" r="3.9" fill="#000" stroke="#000" stroke-width="0.9"/>
<circle cx="408.80" cy="89.13" r="3.9" fill="#000" stroke="#000" stroke-width="0.9"/>
<circle cx="433.50" cy="263.31" r="3.9" fill="#000" stroke="#000" stroke-width="0.9"/>
<circle cx="458.00" cy="250.56" r="3.9" fill="#000" stroke="#000" stroke-width="0.9"/>
<circle cx="482.50" cy="241.23" r="3.9" fill="#000" stroke="#000" stroke-width="0.9"/>
<circle cx="506.80" cy="222.10" r="3.9" fill="#000" stroke="#000" stroke-width="0.9"/>
<rect x="332.90" y="222.91" width="7.2" height="7.2" fill="#fff" stroke="#000" stroke-width="0.9"/>
<rect x="356.90" y="212.12" width="7.2" height="7.2" fill="#fff" stroke="#000" stroke-width="0.9"/>
<rect x="380.90" y="187.09" width="7.2" height="7.2" fill="#fff" stroke="#000" stroke-width="0.9"/>
<rect x="405.20" y="133.61" width="7.2" height="7.2" fill="#fff" stroke="#000" stroke-width="0.9"/>
<rect x="429.90" y="282.28" width="7.2" height="7.2" fill="#fff" stroke="#000" stroke-width="0.9"/>
<rect x="454.40" y="266.09" width="7.2" height="7.2" fill="#fff" stroke="#000" stroke-width="0.9"/>
<rect x="478.90" y="255.79" width="7.2" height="7.2" fill="#fff" stroke="#000" stroke-width="0.9"/>
<rect x="503.20" y="243.52" width="7.2" height="7.2" fill="#fff" stroke="#000" stroke-width="0.9"/>
<path d="M336.50,238.01L340.70,245.51L332.30,245.51Z" fill="#fff" stroke="#000" stroke-width="0.9"/>
<path d="M360.50,214.95L364.70,222.45L356.30,222.45Z" fill="#fff" stroke="#000" stroke-width="0.9"/>
<path d="M384.50,188.95L388.70,196.45L380.30,196.45Z" fill="#fff" stroke="#000" stroke-width="0.9"/>
<path d="M408.80,153.62L413.00,161.12L404.60,161.12Z" fill="#fff" stroke="#000" stroke-width="0.9"/>
<path d="M433.50,277.27L437.70,284.77L429.30,284.77Z" fill="#fff" stroke="#000" stroke-width="0.9"/>
<path d="M458.00,267.45L462.20,274.95L453.80,274.95Z" fill="#fff" stroke="#000" stroke-width="0.9"/>
<path d="M482.50,257.64L486.70,265.14L478.30,265.14Z" fill="#fff" stroke="#000" stroke-width="0.9"/>
<path d="M506.80,248.81L511.00,256.31L502.60,256.31Z" fill="#fff" stroke="#000" stroke-width="0.9"/>
<circle cx="336.50" cy="233.87" r="3.9" fill="#fff" stroke="#000" stroke-width="0.9"/>
<circle cx="360.50" cy="203.94" r="3.9" fill="#fff" stroke="#000" stroke-width="0.9"/>
<circle cx="384.50" cy="176.96" r="3.9" fill="#fff" stroke="#000" stroke-width="0.9"/>
<circle cx="408.80" cy="142.12" r="3.9" fill="#fff" stroke="#000" stroke-width="0.9"/>
<circle cx="433.50" cy="275.58" r="3.9" fill="#fff" stroke="#000" stroke-width="0.9"/>
<circle cx="458.00" cy="258.41" r="3.9" fill="#fff" stroke="#000" stroke-width="0.9"/>
<circle cx="482.50" cy="251.05" r="3.9" fill="#fff" stroke="#000" stroke-width="0.9"/>
<circle cx="506.80" cy="233.38" r="3.9" fill="#fff" stroke="#000" stroke-width="0.9"/>
<rect x="323.4" y="69.5" width="196.10" height="220.80" fill="none" stroke="#222" stroke-width="1.1"/>
<path d="M421.5,69.5V290.3" stroke="#222" stroke-width="1.1"/>
<text x="434.9" y="95.3" font-family="Liberation Serif" font-weight="bold" stroke="#111" stroke-width="0.25" font-size="10.9" fill="#111">Immunizations</text>
<rect x="426.40" y="104.40" width="7.2" height="7.2" fill="#000" stroke="#000" stroke-width="0.9"/>
<text x="440.2" y="110.20" font-family="Liberation Serif" font-weight="bold" stroke="#111" stroke-width="0.25" font-size="10.1" fill="#111">iDC</text>
<path d="M430.00,114.80L434.20,122.30L425.80,122.30Z" fill="#000" stroke="#000" stroke-width="0.9"/>
<text x="440.2" y="121.46" font-family="Liberation Serif" font-weight="bold" stroke="#111" stroke-width="0.25" font-size="10.1" fill="#111">iDC+poly-arg</text>
<circle cx="430.00" cy="130.00" r="3.9" fill="#000" stroke="#000" stroke-width="0.9"/>
<text x="440.2" y="132.72" font-family="Liberation Serif" font-weight="bold" stroke="#111" stroke-width="0.25" font-size="10.1" fill="#111">iDC+Imiquimod</text>
<rect x="426.40" y="137.40" width="7.2" height="7.2" fill="#fff" stroke="#000" stroke-width="0.9"/>
<text x="440.2" y="143.98" font-family="Liberation Serif" font-weight="bold" stroke="#111" stroke-width="0.25" font-size="10.1" fill="#111">mDC</text>
<path d="M430.00,147.80L434.20,155.30L425.80,155.30Z" fill="#fff" stroke="#000" stroke-width="0.9"/>
<text x="440.2" y="155.24" font-family="Liberation Serif" font-weight="bold" stroke="#111" stroke-width="0.25" font-size="10.1" fill="#111">mDC+poly-arg</text>
<circle cx="430.00" cy="163.00" r="3.9" fill="#fff" stroke="#000" stroke-width="0.9"/>
<text x="440.2" y="166.50" font-family="Liberation Serif" font-weight="bold" stroke="#111" stroke-width="0.25" font-size="10.1" fill="#111">mDC+Imiquimod</text></svg></body></html>
